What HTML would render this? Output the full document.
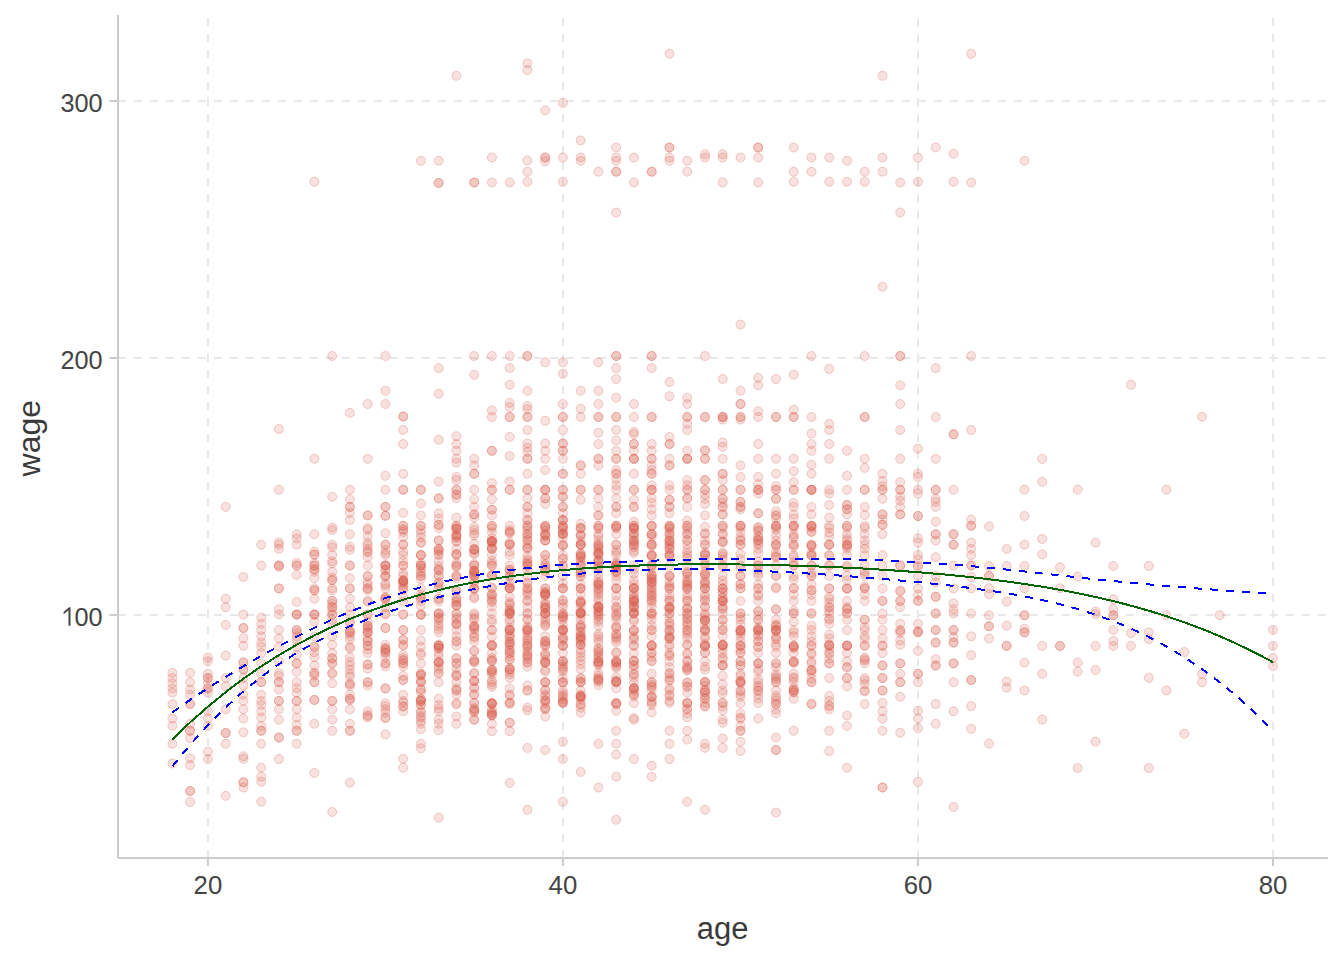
<!DOCTYPE html>
<html><head><meta charset="utf-8"><style>
html,body{margin:0;padding:0;background:#fff;}
svg{display:block;}
text{font-family:"Liberation Sans",sans-serif;}
</style></head><body>
<svg width="1344" height="960" viewBox="0 0 1344 960">
<rect width="1344" height="960" fill="#fff"/>
<g stroke="#E8E8E8" stroke-width="2" stroke-dasharray="8 8" fill="none">
<line x1="207.9" y1="858.0" x2="207.9" y2="15.0"/>
<line x1="562.9" y1="858.0" x2="562.9" y2="15.0"/>
<line x1="918.0" y1="858.0" x2="918.0" y2="15.0"/>
<line x1="1273.0" y1="858.0" x2="1273.0" y2="15.0"/>
<line x1="118" y1="614.9" x2="1328.0" y2="614.9"/>
<line x1="118" y1="357.9" x2="1328.0" y2="357.9"/>
<line x1="118" y1="101.0" x2="1328.0" y2="101.0"/>
</g>
<g fill="rgb(218,88,72)" fill-opacity="0.18" stroke="rgb(218,88,72)" stroke-opacity="0.28" stroke-width="1.0">
<circle cx="456.4" cy="75.8" r="4.5"/>
<circle cx="527.4" cy="63.3" r="4.5"/>
<circle cx="527.4" cy="70.0" r="4.5"/>
<circle cx="527.4" cy="160.4" r="4.5"/>
<circle cx="527.4" cy="171.7" r="4.5"/>
<circle cx="527.4" cy="181.7" r="4.5"/>
<circle cx="669.5" cy="53.8" r="4.5"/>
<circle cx="669.5" cy="147.5" r="4.5"/>
<circle cx="669.5" cy="147.5" r="4.5"/>
<circle cx="669.5" cy="157.5" r="4.5"/>
<circle cx="669.5" cy="160.8" r="4.5"/>
<circle cx="545.2" cy="110.4" r="4.5"/>
<circle cx="545.2" cy="157.5" r="4.5"/>
<circle cx="545.2" cy="157.5" r="4.5"/>
<circle cx="545.2" cy="161.2" r="4.5"/>
<circle cx="562.9" cy="102.9" r="4.5"/>
<circle cx="562.9" cy="157.5" r="4.5"/>
<circle cx="562.9" cy="181.7" r="4.5"/>
<circle cx="314.4" cy="181.7" r="4.5"/>
<circle cx="420.9" cy="160.8" r="4.5"/>
<circle cx="438.7" cy="160.8" r="4.5"/>
<circle cx="438.7" cy="182.9" r="4.5"/>
<circle cx="438.7" cy="182.9" r="4.5"/>
<circle cx="474.2" cy="182.5" r="4.5"/>
<circle cx="474.2" cy="182.5" r="4.5"/>
<circle cx="491.9" cy="157.5" r="4.5"/>
<circle cx="491.9" cy="182.5" r="4.5"/>
<circle cx="509.7" cy="182.5" r="4.5"/>
<circle cx="580.7" cy="140.4" r="4.5"/>
<circle cx="580.7" cy="157.5" r="4.5"/>
<circle cx="580.7" cy="160.8" r="4.5"/>
<circle cx="598.4" cy="171.7" r="4.5"/>
<circle cx="616.2" cy="147.5" r="4.5"/>
<circle cx="616.2" cy="157.5" r="4.5"/>
<circle cx="616.2" cy="160.8" r="4.5"/>
<circle cx="616.2" cy="171.7" r="4.5"/>
<circle cx="616.2" cy="171.7" r="4.5"/>
<circle cx="616.2" cy="212.5" r="4.5"/>
<circle cx="633.9" cy="157.5" r="4.5"/>
<circle cx="633.9" cy="182.5" r="4.5"/>
<circle cx="651.7" cy="171.7" r="4.5"/>
<circle cx="651.7" cy="171.7" r="4.5"/>
<circle cx="687.2" cy="160.8" r="4.5"/>
<circle cx="687.2" cy="171.7" r="4.5"/>
<circle cx="705.0" cy="154.2" r="4.5"/>
<circle cx="705.0" cy="157.5" r="4.5"/>
<circle cx="882.5" cy="75.8" r="4.5"/>
<circle cx="971.2" cy="53.8" r="4.5"/>
<circle cx="722.7" cy="154.2" r="4.5"/>
<circle cx="722.7" cy="157.5" r="4.5"/>
<circle cx="722.7" cy="182.5" r="4.5"/>
<circle cx="740.5" cy="157.5" r="4.5"/>
<circle cx="740.5" cy="324.6" r="4.5"/>
<circle cx="758.2" cy="147.5" r="4.5"/>
<circle cx="758.2" cy="147.5" r="4.5"/>
<circle cx="758.2" cy="157.5" r="4.5"/>
<circle cx="758.2" cy="182.5" r="4.5"/>
<circle cx="793.7" cy="147.5" r="4.5"/>
<circle cx="793.7" cy="171.7" r="4.5"/>
<circle cx="793.7" cy="181.7" r="4.5"/>
<circle cx="811.5" cy="157.5" r="4.5"/>
<circle cx="811.5" cy="171.7" r="4.5"/>
<circle cx="829.2" cy="157.5" r="4.5"/>
<circle cx="829.2" cy="181.7" r="4.5"/>
<circle cx="847.0" cy="160.8" r="4.5"/>
<circle cx="847.0" cy="181.7" r="4.5"/>
<circle cx="864.7" cy="171.7" r="4.5"/>
<circle cx="864.7" cy="181.7" r="4.5"/>
<circle cx="882.5" cy="157.5" r="4.5"/>
<circle cx="882.5" cy="171.7" r="4.5"/>
<circle cx="882.5" cy="286.7" r="4.5"/>
<circle cx="900.2" cy="182.5" r="4.5"/>
<circle cx="900.2" cy="212.5" r="4.5"/>
<circle cx="918.0" cy="157.5" r="4.5"/>
<circle cx="918.0" cy="181.7" r="4.5"/>
<circle cx="935.7" cy="147.5" r="4.5"/>
<circle cx="953.5" cy="153.8" r="4.5"/>
<circle cx="953.5" cy="181.7" r="4.5"/>
<circle cx="971.2" cy="182.5" r="4.5"/>
<circle cx="1024.5" cy="160.8" r="4.5"/>
<circle cx="278.9" cy="429.0" r="4.5"/>
<circle cx="278.9" cy="489.8" r="4.5"/>
<circle cx="225.7" cy="506.9" r="4.5"/>
<circle cx="314.4" cy="458.8" r="4.5"/>
<circle cx="332.2" cy="356.0" r="4.5"/>
<circle cx="332.2" cy="496.7" r="4.5"/>
<circle cx="332.2" cy="527.5" r="4.5"/>
<circle cx="349.9" cy="412.9" r="4.5"/>
<circle cx="349.9" cy="489.8" r="4.5"/>
<circle cx="349.9" cy="499.2" r="4.5"/>
<circle cx="349.9" cy="506.9" r="4.5"/>
<circle cx="349.9" cy="506.9" r="4.5"/>
<circle cx="349.9" cy="512.9" r="4.5"/>
<circle cx="349.9" cy="520.0" r="4.5"/>
<circle cx="367.7" cy="404.0" r="4.5"/>
<circle cx="367.7" cy="458.8" r="4.5"/>
<circle cx="367.7" cy="515.4" r="4.5"/>
<circle cx="367.7" cy="515.4" r="4.5"/>
<circle cx="367.7" cy="528.0" r="4.5"/>
<circle cx="385.4" cy="356.0" r="4.5"/>
<circle cx="385.4" cy="390.8" r="4.5"/>
<circle cx="385.4" cy="404.0" r="4.5"/>
<circle cx="385.4" cy="475.8" r="4.5"/>
<circle cx="385.4" cy="489.8" r="4.5"/>
<circle cx="385.4" cy="506.9" r="4.5"/>
<circle cx="385.4" cy="506.9" r="4.5"/>
<circle cx="385.4" cy="515.8" r="4.5"/>
<circle cx="385.4" cy="515.8" r="4.5"/>
<circle cx="403.2" cy="416.5" r="4.5"/>
<circle cx="403.2" cy="416.5" r="4.5"/>
<circle cx="403.2" cy="430.0" r="4.5"/>
<circle cx="403.2" cy="444.0" r="4.5"/>
<circle cx="403.2" cy="473.8" r="4.5"/>
<circle cx="403.2" cy="489.8" r="4.5"/>
<circle cx="403.2" cy="489.8" r="4.5"/>
<circle cx="403.2" cy="512.9" r="4.5"/>
<circle cx="403.2" cy="525.8" r="4.5"/>
<circle cx="403.2" cy="525.8" r="4.5"/>
<circle cx="420.9" cy="489.8" r="4.5"/>
<circle cx="420.9" cy="489.8" r="4.5"/>
<circle cx="420.9" cy="503.5" r="4.5"/>
<circle cx="420.9" cy="515.4" r="4.5"/>
<circle cx="420.9" cy="525.8" r="4.5"/>
<circle cx="420.9" cy="525.8" r="4.5"/>
<circle cx="438.7" cy="368.1" r="4.5"/>
<circle cx="438.7" cy="393.8" r="4.5"/>
<circle cx="438.7" cy="439.8" r="4.5"/>
<circle cx="438.7" cy="481.5" r="4.5"/>
<circle cx="438.7" cy="498.3" r="4.5"/>
<circle cx="438.7" cy="498.3" r="4.5"/>
<circle cx="438.7" cy="513.3" r="4.5"/>
<circle cx="438.7" cy="518.5" r="4.5"/>
<circle cx="438.7" cy="524.8" r="4.5"/>
<circle cx="438.7" cy="524.8" r="4.5"/>
<circle cx="456.4" cy="436.2" r="4.5"/>
<circle cx="456.4" cy="444.0" r="4.5"/>
<circle cx="456.4" cy="450.8" r="4.5"/>
<circle cx="456.4" cy="458.8" r="4.5"/>
<circle cx="456.4" cy="462.7" r="4.5"/>
<circle cx="456.4" cy="476.9" r="4.5"/>
<circle cx="456.4" cy="480.0" r="4.5"/>
<circle cx="456.4" cy="489.8" r="4.5"/>
<circle cx="456.4" cy="489.8" r="4.5"/>
<circle cx="456.4" cy="494.6" r="4.5"/>
<circle cx="456.4" cy="494.6" r="4.5"/>
<circle cx="456.4" cy="498.3" r="4.5"/>
<circle cx="456.4" cy="517.5" r="4.5"/>
<circle cx="456.4" cy="525.8" r="4.5"/>
<circle cx="456.4" cy="525.8" r="4.5"/>
<circle cx="474.2" cy="356.0" r="4.5"/>
<circle cx="474.2" cy="374.8" r="4.5"/>
<circle cx="474.2" cy="458.8" r="4.5"/>
<circle cx="474.2" cy="465.4" r="4.5"/>
<circle cx="474.2" cy="473.8" r="4.5"/>
<circle cx="474.2" cy="473.8" r="4.5"/>
<circle cx="474.2" cy="489.8" r="4.5"/>
<circle cx="474.2" cy="499.2" r="4.5"/>
<circle cx="474.2" cy="506.9" r="4.5"/>
<circle cx="474.2" cy="514.4" r="4.5"/>
<circle cx="474.2" cy="514.4" r="4.5"/>
<circle cx="474.2" cy="517.5" r="4.5"/>
<circle cx="474.2" cy="530.0" r="4.5"/>
<circle cx="491.9" cy="356.0" r="4.5"/>
<circle cx="491.9" cy="410.4" r="4.5"/>
<circle cx="491.9" cy="417.0" r="4.5"/>
<circle cx="491.9" cy="450.8" r="4.5"/>
<circle cx="491.9" cy="450.8" r="4.5"/>
<circle cx="491.9" cy="483.1" r="4.5"/>
<circle cx="491.9" cy="489.8" r="4.5"/>
<circle cx="491.9" cy="489.8" r="4.5"/>
<circle cx="491.9" cy="499.2" r="4.5"/>
<circle cx="491.9" cy="509.6" r="4.5"/>
<circle cx="491.9" cy="509.6" r="4.5"/>
<circle cx="491.9" cy="515.4" r="4.5"/>
<circle cx="491.9" cy="525.8" r="4.5"/>
<circle cx="491.9" cy="525.8" r="4.5"/>
<circle cx="509.7" cy="356.0" r="4.5"/>
<circle cx="509.7" cy="368.1" r="4.5"/>
<circle cx="509.7" cy="384.8" r="4.5"/>
<circle cx="509.7" cy="402.9" r="4.5"/>
<circle cx="509.7" cy="407.1" r="4.5"/>
<circle cx="509.7" cy="417.0" r="4.5"/>
<circle cx="509.7" cy="417.0" r="4.5"/>
<circle cx="509.7" cy="436.9" r="4.5"/>
<circle cx="509.7" cy="456.0" r="4.5"/>
<circle cx="509.7" cy="481.5" r="4.5"/>
<circle cx="509.7" cy="489.8" r="4.5"/>
<circle cx="509.7" cy="489.8" r="4.5"/>
<circle cx="509.7" cy="525.8" r="4.5"/>
<circle cx="527.4" cy="356.0" r="4.5"/>
<circle cx="527.4" cy="356.0" r="4.5"/>
<circle cx="527.4" cy="390.8" r="4.5"/>
<circle cx="527.4" cy="406.0" r="4.5"/>
<circle cx="527.4" cy="409.2" r="4.5"/>
<circle cx="527.4" cy="417.0" r="4.5"/>
<circle cx="527.4" cy="417.0" r="4.5"/>
<circle cx="527.4" cy="430.0" r="4.5"/>
<circle cx="527.4" cy="443.5" r="4.5"/>
<circle cx="527.4" cy="447.7" r="4.5"/>
<circle cx="527.4" cy="451.9" r="4.5"/>
<circle cx="527.4" cy="458.8" r="4.5"/>
<circle cx="527.4" cy="458.8" r="4.5"/>
<circle cx="527.4" cy="473.8" r="4.5"/>
<circle cx="527.4" cy="489.8" r="4.5"/>
<circle cx="527.4" cy="489.8" r="4.5"/>
<circle cx="527.4" cy="498.3" r="4.5"/>
<circle cx="527.4" cy="506.9" r="4.5"/>
<circle cx="527.4" cy="506.9" r="4.5"/>
<circle cx="527.4" cy="513.3" r="4.5"/>
<circle cx="527.4" cy="520.0" r="4.5"/>
<circle cx="527.4" cy="520.0" r="4.5"/>
<circle cx="527.4" cy="525.8" r="4.5"/>
<circle cx="527.4" cy="525.8" r="4.5"/>
<circle cx="545.2" cy="362.3" r="4.5"/>
<circle cx="545.2" cy="420.8" r="4.5"/>
<circle cx="545.2" cy="443.5" r="4.5"/>
<circle cx="545.2" cy="450.8" r="4.5"/>
<circle cx="545.2" cy="458.8" r="4.5"/>
<circle cx="545.2" cy="470.0" r="4.5"/>
<circle cx="545.2" cy="489.8" r="4.5"/>
<circle cx="545.2" cy="489.8" r="4.5"/>
<circle cx="545.2" cy="489.8" r="4.5"/>
<circle cx="545.2" cy="498.3" r="4.5"/>
<circle cx="545.2" cy="498.3" r="4.5"/>
<circle cx="545.2" cy="504.0" r="4.5"/>
<circle cx="545.2" cy="525.8" r="4.5"/>
<circle cx="545.2" cy="525.8" r="4.5"/>
<circle cx="562.9" cy="362.3" r="4.5"/>
<circle cx="562.9" cy="373.8" r="4.5"/>
<circle cx="562.9" cy="404.0" r="4.5"/>
<circle cx="562.9" cy="417.0" r="4.5"/>
<circle cx="562.9" cy="417.0" r="4.5"/>
<circle cx="562.9" cy="430.0" r="4.5"/>
<circle cx="562.9" cy="443.5" r="4.5"/>
<circle cx="562.9" cy="443.5" r="4.5"/>
<circle cx="562.9" cy="450.8" r="4.5"/>
<circle cx="562.9" cy="450.8" r="4.5"/>
<circle cx="562.9" cy="458.8" r="4.5"/>
<circle cx="562.9" cy="473.8" r="4.5"/>
<circle cx="562.9" cy="473.8" r="4.5"/>
<circle cx="562.9" cy="489.8" r="4.5"/>
<circle cx="562.9" cy="489.8" r="4.5"/>
<circle cx="562.9" cy="496.7" r="4.5"/>
<circle cx="562.9" cy="496.7" r="4.5"/>
<circle cx="562.9" cy="506.9" r="4.5"/>
<circle cx="562.9" cy="506.9" r="4.5"/>
<circle cx="562.9" cy="513.3" r="4.5"/>
<circle cx="562.9" cy="520.0" r="4.5"/>
<circle cx="562.9" cy="520.0" r="4.5"/>
<circle cx="562.9" cy="520.0" r="4.5"/>
<circle cx="562.9" cy="525.8" r="4.5"/>
<circle cx="562.9" cy="525.8" r="4.5"/>
<circle cx="580.7" cy="390.8" r="4.5"/>
<circle cx="580.7" cy="408.8" r="4.5"/>
<circle cx="580.7" cy="417.0" r="4.5"/>
<circle cx="580.7" cy="465.4" r="4.5"/>
<circle cx="580.7" cy="465.4" r="4.5"/>
<circle cx="580.7" cy="473.8" r="4.5"/>
<circle cx="580.7" cy="489.8" r="4.5"/>
<circle cx="580.7" cy="489.8" r="4.5"/>
<circle cx="580.7" cy="499.8" r="4.5"/>
<circle cx="580.7" cy="523.8" r="4.5"/>
<circle cx="580.7" cy="528.0" r="4.5"/>
<circle cx="598.4" cy="362.3" r="4.5"/>
<circle cx="598.4" cy="390.8" r="4.5"/>
<circle cx="598.4" cy="404.0" r="4.5"/>
<circle cx="598.4" cy="417.0" r="4.5"/>
<circle cx="598.4" cy="417.0" r="4.5"/>
<circle cx="598.4" cy="432.7" r="4.5"/>
<circle cx="598.4" cy="444.0" r="4.5"/>
<circle cx="598.4" cy="458.8" r="4.5"/>
<circle cx="598.4" cy="458.8" r="4.5"/>
<circle cx="598.4" cy="465.4" r="4.5"/>
<circle cx="598.4" cy="489.8" r="4.5"/>
<circle cx="598.4" cy="489.8" r="4.5"/>
<circle cx="598.4" cy="498.3" r="4.5"/>
<circle cx="598.4" cy="506.9" r="4.5"/>
<circle cx="598.4" cy="515.4" r="4.5"/>
<circle cx="598.4" cy="515.4" r="4.5"/>
<circle cx="598.4" cy="525.8" r="4.5"/>
<circle cx="598.4" cy="525.8" r="4.5"/>
<circle cx="616.2" cy="356.0" r="4.5"/>
<circle cx="616.2" cy="356.0" r="4.5"/>
<circle cx="616.2" cy="368.1" r="4.5"/>
<circle cx="616.2" cy="379.0" r="4.5"/>
<circle cx="616.2" cy="397.7" r="4.5"/>
<circle cx="616.2" cy="417.0" r="4.5"/>
<circle cx="616.2" cy="417.0" r="4.5"/>
<circle cx="616.2" cy="430.0" r="4.5"/>
<circle cx="616.2" cy="440.4" r="4.5"/>
<circle cx="616.2" cy="450.8" r="4.5"/>
<circle cx="616.2" cy="458.8" r="4.5"/>
<circle cx="616.2" cy="458.8" r="4.5"/>
<circle cx="616.2" cy="470.0" r="4.5"/>
<circle cx="616.2" cy="473.8" r="4.5"/>
<circle cx="616.2" cy="473.8" r="4.5"/>
<circle cx="616.2" cy="479.0" r="4.5"/>
<circle cx="616.2" cy="485.2" r="4.5"/>
<circle cx="616.2" cy="489.8" r="4.5"/>
<circle cx="616.2" cy="498.3" r="4.5"/>
<circle cx="616.2" cy="506.9" r="4.5"/>
<circle cx="616.2" cy="506.9" r="4.5"/>
<circle cx="616.2" cy="513.3" r="4.5"/>
<circle cx="616.2" cy="525.8" r="4.5"/>
<circle cx="616.2" cy="525.8" r="4.5"/>
<circle cx="616.2" cy="525.8" r="4.5"/>
<circle cx="633.9" cy="404.0" r="4.5"/>
<circle cx="633.9" cy="417.0" r="4.5"/>
<circle cx="633.9" cy="432.0" r="4.5"/>
<circle cx="633.9" cy="434.2" r="4.5"/>
<circle cx="633.9" cy="444.0" r="4.5"/>
<circle cx="633.9" cy="444.0" r="4.5"/>
<circle cx="633.9" cy="450.8" r="4.5"/>
<circle cx="633.9" cy="458.8" r="4.5"/>
<circle cx="633.9" cy="458.8" r="4.5"/>
<circle cx="633.9" cy="458.8" r="4.5"/>
<circle cx="633.9" cy="473.8" r="4.5"/>
<circle cx="633.9" cy="489.8" r="4.5"/>
<circle cx="633.9" cy="489.8" r="4.5"/>
<circle cx="633.9" cy="499.8" r="4.5"/>
<circle cx="633.9" cy="506.9" r="4.5"/>
<circle cx="633.9" cy="506.9" r="4.5"/>
<circle cx="633.9" cy="521.7" r="4.5"/>
<circle cx="633.9" cy="525.8" r="4.5"/>
<circle cx="633.9" cy="525.8" r="4.5"/>
<circle cx="651.7" cy="356.0" r="4.5"/>
<circle cx="651.7" cy="356.0" r="4.5"/>
<circle cx="651.7" cy="368.1" r="4.5"/>
<circle cx="651.7" cy="417.0" r="4.5"/>
<circle cx="651.7" cy="417.0" r="4.5"/>
<circle cx="651.7" cy="444.0" r="4.5"/>
<circle cx="651.7" cy="450.8" r="4.5"/>
<circle cx="651.7" cy="458.8" r="4.5"/>
<circle cx="651.7" cy="458.8" r="4.5"/>
<circle cx="651.7" cy="465.4" r="4.5"/>
<circle cx="651.7" cy="470.0" r="4.5"/>
<circle cx="651.7" cy="473.8" r="4.5"/>
<circle cx="651.7" cy="473.8" r="4.5"/>
<circle cx="651.7" cy="485.2" r="4.5"/>
<circle cx="651.7" cy="489.8" r="4.5"/>
<circle cx="651.7" cy="489.8" r="4.5"/>
<circle cx="651.7" cy="489.8" r="4.5"/>
<circle cx="651.7" cy="498.3" r="4.5"/>
<circle cx="651.7" cy="502.9" r="4.5"/>
<circle cx="651.7" cy="509.2" r="4.5"/>
<circle cx="651.7" cy="515.4" r="4.5"/>
<circle cx="651.7" cy="525.8" r="4.5"/>
<circle cx="651.7" cy="525.8" r="4.5"/>
<circle cx="669.5" cy="382.0" r="4.5"/>
<circle cx="669.5" cy="396.2" r="4.5"/>
<circle cx="669.5" cy="436.9" r="4.5"/>
<circle cx="669.5" cy="444.0" r="4.5"/>
<circle cx="669.5" cy="444.0" r="4.5"/>
<circle cx="669.5" cy="458.8" r="4.5"/>
<circle cx="669.5" cy="465.4" r="4.5"/>
<circle cx="669.5" cy="465.4" r="4.5"/>
<circle cx="669.5" cy="485.2" r="4.5"/>
<circle cx="669.5" cy="489.8" r="4.5"/>
<circle cx="669.5" cy="499.8" r="4.5"/>
<circle cx="669.5" cy="499.8" r="4.5"/>
<circle cx="669.5" cy="506.9" r="4.5"/>
<circle cx="669.5" cy="506.9" r="4.5"/>
<circle cx="669.5" cy="513.3" r="4.5"/>
<circle cx="669.5" cy="525.8" r="4.5"/>
<circle cx="669.5" cy="525.8" r="4.5"/>
<circle cx="687.2" cy="397.7" r="4.5"/>
<circle cx="687.2" cy="404.0" r="4.5"/>
<circle cx="687.2" cy="417.0" r="4.5"/>
<circle cx="687.2" cy="417.0" r="4.5"/>
<circle cx="687.2" cy="423.8" r="4.5"/>
<circle cx="687.2" cy="430.0" r="4.5"/>
<circle cx="687.2" cy="450.8" r="4.5"/>
<circle cx="687.2" cy="458.8" r="4.5"/>
<circle cx="687.2" cy="458.8" r="4.5"/>
<circle cx="687.2" cy="458.8" r="4.5"/>
<circle cx="687.2" cy="480.0" r="4.5"/>
<circle cx="687.2" cy="485.2" r="4.5"/>
<circle cx="687.2" cy="489.8" r="4.5"/>
<circle cx="687.2" cy="489.8" r="4.5"/>
<circle cx="687.2" cy="498.3" r="4.5"/>
<circle cx="687.2" cy="498.3" r="4.5"/>
<circle cx="687.2" cy="506.9" r="4.5"/>
<circle cx="687.2" cy="520.6" r="4.5"/>
<circle cx="687.2" cy="525.8" r="4.5"/>
<circle cx="687.2" cy="525.8" r="4.5"/>
<circle cx="705.0" cy="356.0" r="4.5"/>
<circle cx="705.0" cy="417.0" r="4.5"/>
<circle cx="705.0" cy="417.0" r="4.5"/>
<circle cx="705.0" cy="450.4" r="4.5"/>
<circle cx="705.0" cy="450.4" r="4.5"/>
<circle cx="705.0" cy="458.8" r="4.5"/>
<circle cx="705.0" cy="458.8" r="4.5"/>
<circle cx="705.0" cy="480.0" r="4.5"/>
<circle cx="705.0" cy="480.0" r="4.5"/>
<circle cx="705.0" cy="489.8" r="4.5"/>
<circle cx="705.0" cy="489.8" r="4.5"/>
<circle cx="705.0" cy="494.6" r="4.5"/>
<circle cx="705.0" cy="498.8" r="4.5"/>
<circle cx="705.0" cy="504.0" r="4.5"/>
<circle cx="705.0" cy="515.4" r="4.5"/>
<circle cx="705.0" cy="526.9" r="4.5"/>
<circle cx="722.7" cy="379.0" r="4.5"/>
<circle cx="722.7" cy="417.0" r="4.5"/>
<circle cx="722.7" cy="417.0" r="4.5"/>
<circle cx="722.7" cy="417.0" r="4.5"/>
<circle cx="722.7" cy="419.6" r="4.5"/>
<circle cx="722.7" cy="442.5" r="4.5"/>
<circle cx="722.7" cy="446.7" r="4.5"/>
<circle cx="722.7" cy="458.8" r="4.5"/>
<circle cx="722.7" cy="473.8" r="4.5"/>
<circle cx="722.7" cy="473.8" r="4.5"/>
<circle cx="722.7" cy="480.0" r="4.5"/>
<circle cx="722.7" cy="489.8" r="4.5"/>
<circle cx="722.7" cy="489.8" r="4.5"/>
<circle cx="722.7" cy="498.8" r="4.5"/>
<circle cx="722.7" cy="498.8" r="4.5"/>
<circle cx="722.7" cy="502.9" r="4.5"/>
<circle cx="722.7" cy="506.9" r="4.5"/>
<circle cx="722.7" cy="506.9" r="4.5"/>
<circle cx="722.7" cy="514.4" r="4.5"/>
<circle cx="722.7" cy="514.4" r="4.5"/>
<circle cx="722.7" cy="525.8" r="4.5"/>
<circle cx="722.7" cy="525.8" r="4.5"/>
<circle cx="740.5" cy="390.8" r="4.5"/>
<circle cx="740.5" cy="404.0" r="4.5"/>
<circle cx="740.5" cy="404.0" r="4.5"/>
<circle cx="740.5" cy="417.0" r="4.5"/>
<circle cx="740.5" cy="417.0" r="4.5"/>
<circle cx="740.5" cy="419.6" r="4.5"/>
<circle cx="740.5" cy="465.4" r="4.5"/>
<circle cx="740.5" cy="476.9" r="4.5"/>
<circle cx="740.5" cy="489.8" r="4.5"/>
<circle cx="740.5" cy="489.8" r="4.5"/>
<circle cx="740.5" cy="501.9" r="4.5"/>
<circle cx="740.5" cy="501.9" r="4.5"/>
<circle cx="740.5" cy="506.9" r="4.5"/>
<circle cx="740.5" cy="506.9" r="4.5"/>
<circle cx="740.5" cy="509.2" r="4.5"/>
<circle cx="740.5" cy="525.8" r="4.5"/>
<circle cx="740.5" cy="525.8" r="4.5"/>
<circle cx="740.5" cy="525.8" r="4.5"/>
<circle cx="758.2" cy="377.9" r="4.5"/>
<circle cx="758.2" cy="385.2" r="4.5"/>
<circle cx="758.2" cy="411.2" r="4.5"/>
<circle cx="758.2" cy="417.0" r="4.5"/>
<circle cx="758.2" cy="444.0" r="4.5"/>
<circle cx="758.2" cy="458.8" r="4.5"/>
<circle cx="758.2" cy="476.9" r="4.5"/>
<circle cx="758.2" cy="484.2" r="4.5"/>
<circle cx="758.2" cy="489.8" r="4.5"/>
<circle cx="758.2" cy="489.8" r="4.5"/>
<circle cx="758.2" cy="489.8" r="4.5"/>
<circle cx="758.2" cy="493.5" r="4.5"/>
<circle cx="758.2" cy="513.3" r="4.5"/>
<circle cx="758.2" cy="513.3" r="4.5"/>
<circle cx="758.2" cy="526.9" r="4.5"/>
<circle cx="776.0" cy="379.0" r="4.5"/>
<circle cx="776.0" cy="417.0" r="4.5"/>
<circle cx="776.0" cy="417.0" r="4.5"/>
<circle cx="776.0" cy="458.8" r="4.5"/>
<circle cx="776.0" cy="473.8" r="4.5"/>
<circle cx="776.0" cy="486.2" r="4.5"/>
<circle cx="776.0" cy="489.8" r="4.5"/>
<circle cx="776.0" cy="489.8" r="4.5"/>
<circle cx="776.0" cy="498.8" r="4.5"/>
<circle cx="776.0" cy="498.8" r="4.5"/>
<circle cx="776.0" cy="511.2" r="4.5"/>
<circle cx="776.0" cy="515.4" r="4.5"/>
<circle cx="776.0" cy="515.4" r="4.5"/>
<circle cx="776.0" cy="518.5" r="4.5"/>
<circle cx="776.0" cy="525.8" r="4.5"/>
<circle cx="776.0" cy="525.8" r="4.5"/>
<circle cx="776.0" cy="525.8" r="4.5"/>
<circle cx="793.7" cy="374.8" r="4.5"/>
<circle cx="793.7" cy="409.8" r="4.5"/>
<circle cx="793.7" cy="417.0" r="4.5"/>
<circle cx="793.7" cy="417.0" r="4.5"/>
<circle cx="793.7" cy="458.8" r="4.5"/>
<circle cx="793.7" cy="471.2" r="4.5"/>
<circle cx="793.7" cy="482.1" r="4.5"/>
<circle cx="793.7" cy="489.8" r="4.5"/>
<circle cx="793.7" cy="489.8" r="4.5"/>
<circle cx="793.7" cy="502.9" r="4.5"/>
<circle cx="793.7" cy="506.9" r="4.5"/>
<circle cx="793.7" cy="514.4" r="4.5"/>
<circle cx="793.7" cy="518.5" r="4.5"/>
<circle cx="793.7" cy="525.8" r="4.5"/>
<circle cx="793.7" cy="525.8" r="4.5"/>
<circle cx="793.7" cy="525.8" r="4.5"/>
<circle cx="811.5" cy="356.0" r="4.5"/>
<circle cx="811.5" cy="417.0" r="4.5"/>
<circle cx="811.5" cy="433.5" r="4.5"/>
<circle cx="811.5" cy="444.0" r="4.5"/>
<circle cx="811.5" cy="450.8" r="4.5"/>
<circle cx="811.5" cy="464.8" r="4.5"/>
<circle cx="811.5" cy="473.8" r="4.5"/>
<circle cx="811.5" cy="489.8" r="4.5"/>
<circle cx="811.5" cy="489.8" r="4.5"/>
<circle cx="811.5" cy="489.8" r="4.5"/>
<circle cx="811.5" cy="489.8" r="4.5"/>
<circle cx="811.5" cy="506.9" r="4.5"/>
<circle cx="811.5" cy="514.4" r="4.5"/>
<circle cx="811.5" cy="525.8" r="4.5"/>
<circle cx="811.5" cy="525.8" r="4.5"/>
<circle cx="811.5" cy="525.8" r="4.5"/>
<circle cx="829.2" cy="369.0" r="4.5"/>
<circle cx="829.2" cy="423.8" r="4.5"/>
<circle cx="829.2" cy="430.0" r="4.5"/>
<circle cx="829.2" cy="444.0" r="4.5"/>
<circle cx="829.2" cy="458.8" r="4.5"/>
<circle cx="829.2" cy="489.8" r="4.5"/>
<circle cx="829.2" cy="493.5" r="4.5"/>
<circle cx="829.2" cy="505.0" r="4.5"/>
<circle cx="829.2" cy="517.5" r="4.5"/>
<circle cx="829.2" cy="525.8" r="4.5"/>
<circle cx="847.0" cy="450.8" r="4.5"/>
<circle cx="847.0" cy="475.8" r="4.5"/>
<circle cx="847.0" cy="489.8" r="4.5"/>
<circle cx="847.0" cy="505.0" r="4.5"/>
<circle cx="847.0" cy="505.0" r="4.5"/>
<circle cx="847.0" cy="509.2" r="4.5"/>
<circle cx="847.0" cy="509.2" r="4.5"/>
<circle cx="847.0" cy="514.4" r="4.5"/>
<circle cx="847.0" cy="525.8" r="4.5"/>
<circle cx="847.0" cy="525.8" r="4.5"/>
<circle cx="864.7" cy="356.0" r="4.5"/>
<circle cx="864.7" cy="417.0" r="4.5"/>
<circle cx="864.7" cy="417.0" r="4.5"/>
<circle cx="864.7" cy="458.8" r="4.5"/>
<circle cx="864.7" cy="467.9" r="4.5"/>
<circle cx="864.7" cy="489.8" r="4.5"/>
<circle cx="864.7" cy="489.8" r="4.5"/>
<circle cx="864.7" cy="506.9" r="4.5"/>
<circle cx="864.7" cy="515.0" r="4.5"/>
<circle cx="864.7" cy="525.8" r="4.5"/>
<circle cx="882.5" cy="473.8" r="4.5"/>
<circle cx="882.5" cy="481.0" r="4.5"/>
<circle cx="882.5" cy="486.2" r="4.5"/>
<circle cx="882.5" cy="489.8" r="4.5"/>
<circle cx="882.5" cy="489.8" r="4.5"/>
<circle cx="882.5" cy="498.8" r="4.5"/>
<circle cx="882.5" cy="514.4" r="4.5"/>
<circle cx="882.5" cy="514.4" r="4.5"/>
<circle cx="882.5" cy="519.6" r="4.5"/>
<circle cx="882.5" cy="524.8" r="4.5"/>
<circle cx="882.5" cy="524.8" r="4.5"/>
<circle cx="900.2" cy="356.0" r="4.5"/>
<circle cx="900.2" cy="356.0" r="4.5"/>
<circle cx="900.2" cy="385.2" r="4.5"/>
<circle cx="900.2" cy="404.0" r="4.5"/>
<circle cx="900.2" cy="430.0" r="4.5"/>
<circle cx="900.2" cy="458.8" r="4.5"/>
<circle cx="900.2" cy="482.1" r="4.5"/>
<circle cx="900.2" cy="489.8" r="4.5"/>
<circle cx="900.2" cy="489.8" r="4.5"/>
<circle cx="900.2" cy="496.7" r="4.5"/>
<circle cx="900.2" cy="500.8" r="4.5"/>
<circle cx="900.2" cy="506.9" r="4.5"/>
<circle cx="900.2" cy="514.4" r="4.5"/>
<circle cx="900.2" cy="514.4" r="4.5"/>
<circle cx="918.0" cy="448.8" r="4.5"/>
<circle cx="918.0" cy="473.8" r="4.5"/>
<circle cx="918.0" cy="476.9" r="4.5"/>
<circle cx="918.0" cy="489.8" r="4.5"/>
<circle cx="918.0" cy="493.5" r="4.5"/>
<circle cx="918.0" cy="516.0" r="4.5"/>
<circle cx="918.0" cy="516.0" r="4.5"/>
<circle cx="935.7" cy="368.1" r="4.5"/>
<circle cx="935.7" cy="417.0" r="4.5"/>
<circle cx="935.7" cy="458.8" r="4.5"/>
<circle cx="935.7" cy="489.8" r="4.5"/>
<circle cx="935.7" cy="489.8" r="4.5"/>
<circle cx="935.7" cy="498.8" r="4.5"/>
<circle cx="935.7" cy="501.9" r="4.5"/>
<circle cx="935.7" cy="506.9" r="4.5"/>
<circle cx="935.7" cy="521.7" r="4.5"/>
<circle cx="953.5" cy="434.2" r="4.5"/>
<circle cx="953.5" cy="434.2" r="4.5"/>
<circle cx="953.5" cy="489.8" r="4.5"/>
<circle cx="971.2" cy="356.0" r="4.5"/>
<circle cx="971.2" cy="430.0" r="4.5"/>
<circle cx="971.2" cy="519.6" r="4.5"/>
<circle cx="971.2" cy="525.8" r="4.5"/>
<circle cx="971.2" cy="525.8" r="4.5"/>
<circle cx="989.0" cy="526.4" r="4.5"/>
<circle cx="1024.5" cy="489.6" r="4.5"/>
<circle cx="1024.5" cy="515.9" r="4.5"/>
<circle cx="1042.2" cy="458.9" r="4.5"/>
<circle cx="1042.2" cy="481.7" r="4.5"/>
<circle cx="1077.7" cy="489.6" r="4.5"/>
<circle cx="1131.0" cy="384.8" r="4.5"/>
<circle cx="1166.5" cy="489.6" r="4.5"/>
<circle cx="1202.0" cy="416.7" r="4.5"/>
<circle cx="172.4" cy="672.8" r="4.5"/>
<circle cx="172.4" cy="678.0" r="4.5"/>
<circle cx="172.4" cy="683.2" r="4.5"/>
<circle cx="172.4" cy="688.4" r="4.5"/>
<circle cx="172.4" cy="692.6" r="4.5"/>
<circle cx="172.4" cy="704.0" r="4.5"/>
<circle cx="172.4" cy="718.6" r="4.5"/>
<circle cx="172.4" cy="725.9" r="4.5"/>
<circle cx="190.1" cy="672.8" r="4.5"/>
<circle cx="190.1" cy="682.2" r="4.5"/>
<circle cx="190.1" cy="689.5" r="4.5"/>
<circle cx="190.1" cy="694.7" r="4.5"/>
<circle cx="190.1" cy="704.0" r="4.5"/>
<circle cx="190.1" cy="704.0" r="4.5"/>
<circle cx="190.1" cy="723.8" r="4.5"/>
<circle cx="207.9" cy="657.6" r="4.5"/>
<circle cx="207.9" cy="661.3" r="4.5"/>
<circle cx="207.9" cy="673.8" r="4.5"/>
<circle cx="207.9" cy="678.0" r="4.5"/>
<circle cx="207.9" cy="678.0" r="4.5"/>
<circle cx="207.9" cy="683.2" r="4.5"/>
<circle cx="207.9" cy="688.4" r="4.5"/>
<circle cx="207.9" cy="688.4" r="4.5"/>
<circle cx="207.9" cy="692.6" r="4.5"/>
<circle cx="207.9" cy="711.3" r="4.5"/>
<circle cx="207.9" cy="718.6" r="4.5"/>
<circle cx="207.9" cy="725.9" r="4.5"/>
<circle cx="225.7" cy="598.8" r="4.5"/>
<circle cx="225.7" cy="607.2" r="4.5"/>
<circle cx="225.7" cy="624.9" r="4.5"/>
<circle cx="225.7" cy="655.5" r="4.5"/>
<circle cx="225.7" cy="678.0" r="4.5"/>
<circle cx="225.7" cy="686.3" r="4.5"/>
<circle cx="225.7" cy="709.2" r="4.5"/>
<circle cx="243.4" cy="577.0" r="4.5"/>
<circle cx="243.4" cy="614.5" r="4.5"/>
<circle cx="243.4" cy="628.0" r="4.5"/>
<circle cx="243.4" cy="628.0" r="4.5"/>
<circle cx="243.4" cy="638.4" r="4.5"/>
<circle cx="243.4" cy="645.7" r="4.5"/>
<circle cx="243.4" cy="662.4" r="4.5"/>
<circle cx="243.4" cy="662.4" r="4.5"/>
<circle cx="243.4" cy="669.7" r="4.5"/>
<circle cx="243.4" cy="678.0" r="4.5"/>
<circle cx="243.4" cy="685.3" r="4.5"/>
<circle cx="243.4" cy="694.7" r="4.5"/>
<circle cx="243.4" cy="700.9" r="4.5"/>
<circle cx="243.4" cy="709.2" r="4.5"/>
<circle cx="243.4" cy="718.6" r="4.5"/>
<circle cx="261.2" cy="544.7" r="4.5"/>
<circle cx="261.2" cy="565.5" r="4.5"/>
<circle cx="261.2" cy="617.6" r="4.5"/>
<circle cx="261.2" cy="623.8" r="4.5"/>
<circle cx="261.2" cy="630.0" r="4.5"/>
<circle cx="261.2" cy="636.3" r="4.5"/>
<circle cx="261.2" cy="642.6" r="4.5"/>
<circle cx="261.2" cy="646.8" r="4.5"/>
<circle cx="261.2" cy="653.0" r="4.5"/>
<circle cx="261.2" cy="663.4" r="4.5"/>
<circle cx="261.2" cy="673.8" r="4.5"/>
<circle cx="261.2" cy="682.2" r="4.5"/>
<circle cx="261.2" cy="682.2" r="4.5"/>
<circle cx="261.2" cy="694.7" r="4.5"/>
<circle cx="261.2" cy="700.9" r="4.5"/>
<circle cx="261.2" cy="705.0" r="4.5"/>
<circle cx="261.2" cy="711.3" r="4.5"/>
<circle cx="261.2" cy="717.6" r="4.5"/>
<circle cx="261.2" cy="725.9" r="4.5"/>
<circle cx="278.9" cy="544.7" r="4.5"/>
<circle cx="278.9" cy="565.5" r="4.5"/>
<circle cx="278.9" cy="565.5" r="4.5"/>
<circle cx="278.9" cy="588.4" r="4.5"/>
<circle cx="278.9" cy="588.4" r="4.5"/>
<circle cx="278.9" cy="609.2" r="4.5"/>
<circle cx="278.9" cy="614.5" r="4.5"/>
<circle cx="278.9" cy="630.0" r="4.5"/>
<circle cx="278.9" cy="638.4" r="4.5"/>
<circle cx="278.9" cy="646.8" r="4.5"/>
<circle cx="278.9" cy="661.3" r="4.5"/>
<circle cx="278.9" cy="675.9" r="4.5"/>
<circle cx="278.9" cy="682.2" r="4.5"/>
<circle cx="278.9" cy="682.2" r="4.5"/>
<circle cx="278.9" cy="689.5" r="4.5"/>
<circle cx="278.9" cy="700.9" r="4.5"/>
<circle cx="278.9" cy="700.9" r="4.5"/>
<circle cx="278.9" cy="709.2" r="4.5"/>
<circle cx="278.9" cy="719.7" r="4.5"/>
<circle cx="296.7" cy="534.2" r="4.5"/>
<circle cx="296.7" cy="544.7" r="4.5"/>
<circle cx="296.7" cy="565.5" r="4.5"/>
<circle cx="296.7" cy="565.5" r="4.5"/>
<circle cx="296.7" cy="574.9" r="4.5"/>
<circle cx="296.7" cy="602.0" r="4.5"/>
<circle cx="296.7" cy="614.5" r="4.5"/>
<circle cx="296.7" cy="614.5" r="4.5"/>
<circle cx="296.7" cy="614.5" r="4.5"/>
<circle cx="296.7" cy="630.0" r="4.5"/>
<circle cx="296.7" cy="630.0" r="4.5"/>
<circle cx="296.7" cy="636.3" r="4.5"/>
<circle cx="296.7" cy="646.8" r="4.5"/>
<circle cx="296.7" cy="655.0" r="4.5"/>
<circle cx="296.7" cy="663.4" r="4.5"/>
<circle cx="296.7" cy="663.4" r="4.5"/>
<circle cx="296.7" cy="671.8" r="4.5"/>
<circle cx="296.7" cy="682.2" r="4.5"/>
<circle cx="296.7" cy="692.6" r="4.5"/>
<circle cx="296.7" cy="700.9" r="4.5"/>
<circle cx="296.7" cy="709.2" r="4.5"/>
<circle cx="296.7" cy="717.6" r="4.5"/>
<circle cx="296.7" cy="724.9" r="4.5"/>
<circle cx="314.4" cy="534.2" r="4.5"/>
<circle cx="314.4" cy="555.0" r="4.5"/>
<circle cx="314.4" cy="565.5" r="4.5"/>
<circle cx="314.4" cy="565.5" r="4.5"/>
<circle cx="314.4" cy="571.8" r="4.5"/>
<circle cx="314.4" cy="578.0" r="4.5"/>
<circle cx="314.4" cy="590.5" r="4.5"/>
<circle cx="314.4" cy="598.8" r="4.5"/>
<circle cx="314.4" cy="614.5" r="4.5"/>
<circle cx="314.4" cy="614.5" r="4.5"/>
<circle cx="314.4" cy="614.5" r="4.5"/>
<circle cx="314.4" cy="621.8" r="4.5"/>
<circle cx="314.4" cy="636.3" r="4.5"/>
<circle cx="314.4" cy="646.8" r="4.5"/>
<circle cx="314.4" cy="657.2" r="4.5"/>
<circle cx="314.4" cy="665.5" r="4.5"/>
<circle cx="314.4" cy="673.8" r="4.5"/>
<circle cx="314.4" cy="682.2" r="4.5"/>
<circle cx="314.4" cy="682.2" r="4.5"/>
<circle cx="314.4" cy="699.9" r="4.5"/>
<circle cx="314.4" cy="699.9" r="4.5"/>
<circle cx="314.4" cy="723.8" r="4.5"/>
<circle cx="332.2" cy="530.0" r="4.5"/>
<circle cx="332.2" cy="544.7" r="4.5"/>
<circle cx="332.2" cy="555.0" r="4.5"/>
<circle cx="332.2" cy="561.3" r="4.5"/>
<circle cx="332.2" cy="571.8" r="4.5"/>
<circle cx="332.2" cy="580.0" r="4.5"/>
<circle cx="332.2" cy="588.4" r="4.5"/>
<circle cx="332.2" cy="600.9" r="4.5"/>
<circle cx="332.2" cy="600.9" r="4.5"/>
<circle cx="332.2" cy="607.2" r="4.5"/>
<circle cx="332.2" cy="607.2" r="4.5"/>
<circle cx="332.2" cy="614.5" r="4.5"/>
<circle cx="332.2" cy="614.5" r="4.5"/>
<circle cx="332.2" cy="623.8" r="4.5"/>
<circle cx="332.2" cy="636.3" r="4.5"/>
<circle cx="332.2" cy="644.7" r="4.5"/>
<circle cx="332.2" cy="653.0" r="4.5"/>
<circle cx="332.2" cy="663.4" r="4.5"/>
<circle cx="332.2" cy="663.4" r="4.5"/>
<circle cx="332.2" cy="673.8" r="4.5"/>
<circle cx="332.2" cy="683.2" r="4.5"/>
<circle cx="332.2" cy="700.9" r="4.5"/>
<circle cx="332.2" cy="700.9" r="4.5"/>
<circle cx="332.2" cy="709.2" r="4.5"/>
<circle cx="332.2" cy="719.7" r="4.5"/>
<circle cx="349.9" cy="534.2" r="4.5"/>
<circle cx="349.9" cy="546.8" r="4.5"/>
<circle cx="349.9" cy="565.5" r="4.5"/>
<circle cx="349.9" cy="565.5" r="4.5"/>
<circle cx="349.9" cy="578.0" r="4.5"/>
<circle cx="349.9" cy="588.4" r="4.5"/>
<circle cx="349.9" cy="588.4" r="4.5"/>
<circle cx="349.9" cy="598.8" r="4.5"/>
<circle cx="349.9" cy="607.2" r="4.5"/>
<circle cx="349.9" cy="614.5" r="4.5"/>
<circle cx="349.9" cy="621.8" r="4.5"/>
<circle cx="349.9" cy="632.2" r="4.5"/>
<circle cx="349.9" cy="639.5" r="4.5"/>
<circle cx="349.9" cy="646.8" r="4.5"/>
<circle cx="349.9" cy="657.2" r="4.5"/>
<circle cx="349.9" cy="665.5" r="4.5"/>
<circle cx="349.9" cy="673.8" r="4.5"/>
<circle cx="349.9" cy="684.2" r="4.5"/>
<circle cx="349.9" cy="694.7" r="4.5"/>
<circle cx="349.9" cy="698.8" r="4.5"/>
<circle cx="349.9" cy="698.8" r="4.5"/>
<circle cx="349.9" cy="709.2" r="4.5"/>
<circle cx="349.9" cy="723.8" r="4.5"/>
<circle cx="367.7" cy="530.0" r="4.5"/>
<circle cx="367.7" cy="536.3" r="4.5"/>
<circle cx="367.7" cy="542.6" r="4.5"/>
<circle cx="367.7" cy="548.8" r="4.5"/>
<circle cx="367.7" cy="565.5" r="4.5"/>
<circle cx="367.7" cy="575.9" r="4.5"/>
<circle cx="367.7" cy="588.4" r="4.5"/>
<circle cx="367.7" cy="588.4" r="4.5"/>
<circle cx="367.7" cy="600.9" r="4.5"/>
<circle cx="367.7" cy="614.5" r="4.5"/>
<circle cx="367.7" cy="614.5" r="4.5"/>
<circle cx="367.7" cy="625.9" r="4.5"/>
<circle cx="367.7" cy="625.9" r="4.5"/>
<circle cx="367.7" cy="632.2" r="4.5"/>
<circle cx="367.7" cy="638.4" r="4.5"/>
<circle cx="367.7" cy="645.7" r="4.5"/>
<circle cx="367.7" cy="645.7" r="4.5"/>
<circle cx="367.7" cy="653.0" r="4.5"/>
<circle cx="367.7" cy="664.5" r="4.5"/>
<circle cx="367.7" cy="664.5" r="4.5"/>
<circle cx="367.7" cy="682.2" r="4.5"/>
<circle cx="367.7" cy="682.2" r="4.5"/>
<circle cx="367.7" cy="711.3" r="4.5"/>
<circle cx="367.7" cy="717.6" r="4.5"/>
<circle cx="385.4" cy="533.2" r="4.5"/>
<circle cx="385.4" cy="544.7" r="4.5"/>
<circle cx="385.4" cy="544.7" r="4.5"/>
<circle cx="385.4" cy="555.0" r="4.5"/>
<circle cx="385.4" cy="565.5" r="4.5"/>
<circle cx="385.4" cy="565.5" r="4.5"/>
<circle cx="385.4" cy="575.9" r="4.5"/>
<circle cx="385.4" cy="575.9" r="4.5"/>
<circle cx="385.4" cy="588.4" r="4.5"/>
<circle cx="385.4" cy="598.8" r="4.5"/>
<circle cx="385.4" cy="607.2" r="4.5"/>
<circle cx="385.4" cy="614.5" r="4.5"/>
<circle cx="385.4" cy="628.0" r="4.5"/>
<circle cx="385.4" cy="628.0" r="4.5"/>
<circle cx="385.4" cy="644.7" r="4.5"/>
<circle cx="385.4" cy="653.0" r="4.5"/>
<circle cx="385.4" cy="663.4" r="4.5"/>
<circle cx="385.4" cy="663.4" r="4.5"/>
<circle cx="385.4" cy="688.4" r="4.5"/>
<circle cx="385.4" cy="688.4" r="4.5"/>
<circle cx="385.4" cy="709.2" r="4.5"/>
<circle cx="385.4" cy="717.6" r="4.5"/>
<circle cx="403.2" cy="530.0" r="4.5"/>
<circle cx="403.2" cy="544.7" r="4.5"/>
<circle cx="403.2" cy="544.7" r="4.5"/>
<circle cx="403.2" cy="555.0" r="4.5"/>
<circle cx="403.2" cy="565.5" r="4.5"/>
<circle cx="403.2" cy="572.8" r="4.5"/>
<circle cx="403.2" cy="580.0" r="4.5"/>
<circle cx="403.2" cy="588.4" r="4.5"/>
<circle cx="403.2" cy="596.8" r="4.5"/>
<circle cx="403.2" cy="614.5" r="4.5"/>
<circle cx="403.2" cy="614.5" r="4.5"/>
<circle cx="403.2" cy="630.0" r="4.5"/>
<circle cx="403.2" cy="630.0" r="4.5"/>
<circle cx="403.2" cy="644.7" r="4.5"/>
<circle cx="403.2" cy="655.0" r="4.5"/>
<circle cx="403.2" cy="663.4" r="4.5"/>
<circle cx="403.2" cy="663.4" r="4.5"/>
<circle cx="403.2" cy="675.9" r="4.5"/>
<circle cx="403.2" cy="680.0" r="4.5"/>
<circle cx="403.2" cy="700.9" r="4.5"/>
<circle cx="403.2" cy="711.3" r="4.5"/>
<circle cx="420.9" cy="530.0" r="4.5"/>
<circle cx="420.9" cy="542.6" r="4.5"/>
<circle cx="420.9" cy="555.0" r="4.5"/>
<circle cx="420.9" cy="565.5" r="4.5"/>
<circle cx="420.9" cy="565.5" r="4.5"/>
<circle cx="420.9" cy="565.5" r="4.5"/>
<circle cx="420.9" cy="575.9" r="4.5"/>
<circle cx="420.9" cy="575.9" r="4.5"/>
<circle cx="420.9" cy="588.4" r="4.5"/>
<circle cx="420.9" cy="600.9" r="4.5"/>
<circle cx="420.9" cy="614.5" r="4.5"/>
<circle cx="420.9" cy="614.5" r="4.5"/>
<circle cx="420.9" cy="630.0" r="4.5"/>
<circle cx="420.9" cy="640.5" r="4.5"/>
<circle cx="420.9" cy="646.8" r="4.5"/>
<circle cx="420.9" cy="655.0" r="4.5"/>
<circle cx="420.9" cy="663.4" r="4.5"/>
<circle cx="420.9" cy="673.8" r="4.5"/>
<circle cx="420.9" cy="682.2" r="4.5"/>
<circle cx="420.9" cy="682.2" r="4.5"/>
<circle cx="420.9" cy="692.6" r="4.5"/>
<circle cx="420.9" cy="700.9" r="4.5"/>
<circle cx="420.9" cy="711.3" r="4.5"/>
<circle cx="420.9" cy="723.8" r="4.5"/>
<circle cx="438.7" cy="528.0" r="4.5"/>
<circle cx="438.7" cy="540.5" r="4.5"/>
<circle cx="438.7" cy="540.5" r="4.5"/>
<circle cx="438.7" cy="548.8" r="4.5"/>
<circle cx="438.7" cy="555.1" r="4.5"/>
<circle cx="438.7" cy="561.3" r="4.5"/>
<circle cx="438.7" cy="570.7" r="4.5"/>
<circle cx="438.7" cy="575.9" r="4.5"/>
<circle cx="438.7" cy="575.9" r="4.5"/>
<circle cx="438.7" cy="582.2" r="4.5"/>
<circle cx="438.7" cy="588.4" r="4.5"/>
<circle cx="438.7" cy="598.8" r="4.5"/>
<circle cx="438.7" cy="598.8" r="4.5"/>
<circle cx="438.7" cy="613.4" r="4.5"/>
<circle cx="438.7" cy="613.4" r="4.5"/>
<circle cx="438.7" cy="619.7" r="4.5"/>
<circle cx="438.7" cy="625.9" r="4.5"/>
<circle cx="438.7" cy="632.2" r="4.5"/>
<circle cx="438.7" cy="645.7" r="4.5"/>
<circle cx="438.7" cy="645.7" r="4.5"/>
<circle cx="438.7" cy="645.7" r="4.5"/>
<circle cx="438.7" cy="653.0" r="4.5"/>
<circle cx="438.7" cy="662.4" r="4.5"/>
<circle cx="438.7" cy="662.4" r="4.5"/>
<circle cx="438.7" cy="662.4" r="4.5"/>
<circle cx="438.7" cy="673.8" r="4.5"/>
<circle cx="438.7" cy="682.2" r="4.5"/>
<circle cx="438.7" cy="698.8" r="4.5"/>
<circle cx="438.7" cy="705.1" r="4.5"/>
<circle cx="438.7" cy="711.3" r="4.5"/>
<circle cx="438.7" cy="723.8" r="4.5"/>
<circle cx="456.4" cy="528.0" r="4.5"/>
<circle cx="456.4" cy="534.2" r="4.5"/>
<circle cx="456.4" cy="541.5" r="4.5"/>
<circle cx="456.4" cy="555.1" r="4.5"/>
<circle cx="456.4" cy="565.5" r="4.5"/>
<circle cx="456.4" cy="565.5" r="4.5"/>
<circle cx="456.4" cy="575.9" r="4.5"/>
<circle cx="456.4" cy="590.5" r="4.5"/>
<circle cx="456.4" cy="590.5" r="4.5"/>
<circle cx="456.4" cy="598.8" r="4.5"/>
<circle cx="456.4" cy="605.1" r="4.5"/>
<circle cx="456.4" cy="613.4" r="4.5"/>
<circle cx="456.4" cy="619.7" r="4.5"/>
<circle cx="456.4" cy="623.8" r="4.5"/>
<circle cx="456.4" cy="630.1" r="4.5"/>
<circle cx="456.4" cy="636.3" r="4.5"/>
<circle cx="456.4" cy="645.7" r="4.5"/>
<circle cx="456.4" cy="658.2" r="4.5"/>
<circle cx="456.4" cy="658.2" r="4.5"/>
<circle cx="456.4" cy="663.4" r="4.5"/>
<circle cx="456.4" cy="663.4" r="4.5"/>
<circle cx="456.4" cy="673.8" r="4.5"/>
<circle cx="456.4" cy="682.2" r="4.5"/>
<circle cx="456.4" cy="688.4" r="4.5"/>
<circle cx="456.4" cy="694.7" r="4.5"/>
<circle cx="456.4" cy="703.0" r="4.5"/>
<circle cx="456.4" cy="716.5" r="4.5"/>
<circle cx="456.4" cy="723.8" r="4.5"/>
<circle cx="474.2" cy="533.2" r="4.5"/>
<circle cx="474.2" cy="543.6" r="4.5"/>
<circle cx="474.2" cy="548.8" r="4.5"/>
<circle cx="474.2" cy="554.0" r="4.5"/>
<circle cx="474.2" cy="565.5" r="4.5"/>
<circle cx="474.2" cy="565.5" r="4.5"/>
<circle cx="474.2" cy="570.7" r="4.5"/>
<circle cx="474.2" cy="575.9" r="4.5"/>
<circle cx="474.2" cy="575.9" r="4.5"/>
<circle cx="474.2" cy="588.4" r="4.5"/>
<circle cx="474.2" cy="596.8" r="4.5"/>
<circle cx="474.2" cy="613.4" r="4.5"/>
<circle cx="474.2" cy="619.7" r="4.5"/>
<circle cx="474.2" cy="625.9" r="4.5"/>
<circle cx="474.2" cy="636.3" r="4.5"/>
<circle cx="474.2" cy="641.5" r="4.5"/>
<circle cx="474.2" cy="650.9" r="4.5"/>
<circle cx="474.2" cy="662.4" r="4.5"/>
<circle cx="474.2" cy="673.8" r="4.5"/>
<circle cx="474.2" cy="681.1" r="4.5"/>
<circle cx="474.2" cy="681.1" r="4.5"/>
<circle cx="474.2" cy="688.4" r="4.5"/>
<circle cx="474.2" cy="694.7" r="4.5"/>
<circle cx="474.2" cy="703.0" r="4.5"/>
<circle cx="474.2" cy="703.0" r="4.5"/>
<circle cx="474.2" cy="711.3" r="4.5"/>
<circle cx="474.2" cy="719.7" r="4.5"/>
<circle cx="474.2" cy="719.7" r="4.5"/>
<circle cx="491.9" cy="528.0" r="4.5"/>
<circle cx="491.9" cy="541.5" r="4.5"/>
<circle cx="491.9" cy="541.5" r="4.5"/>
<circle cx="491.9" cy="541.5" r="4.5"/>
<circle cx="491.9" cy="548.8" r="4.5"/>
<circle cx="491.9" cy="555.1" r="4.5"/>
<circle cx="491.9" cy="565.5" r="4.5"/>
<circle cx="491.9" cy="565.5" r="4.5"/>
<circle cx="491.9" cy="575.9" r="4.5"/>
<circle cx="491.9" cy="588.4" r="4.5"/>
<circle cx="491.9" cy="594.7" r="4.5"/>
<circle cx="491.9" cy="600.9" r="4.5"/>
<circle cx="491.9" cy="613.4" r="4.5"/>
<circle cx="491.9" cy="619.7" r="4.5"/>
<circle cx="491.9" cy="630.1" r="4.5"/>
<circle cx="491.9" cy="630.1" r="4.5"/>
<circle cx="491.9" cy="645.7" r="4.5"/>
<circle cx="491.9" cy="645.7" r="4.5"/>
<circle cx="491.9" cy="645.7" r="4.5"/>
<circle cx="491.9" cy="653.0" r="4.5"/>
<circle cx="491.9" cy="661.3" r="4.5"/>
<circle cx="491.9" cy="671.8" r="4.5"/>
<circle cx="491.9" cy="682.2" r="4.5"/>
<circle cx="491.9" cy="703.0" r="4.5"/>
<circle cx="491.9" cy="709.2" r="4.5"/>
<circle cx="491.9" cy="715.5" r="4.5"/>
<circle cx="491.9" cy="723.8" r="4.5"/>
<circle cx="509.7" cy="533.2" r="4.5"/>
<circle cx="509.7" cy="544.7" r="4.5"/>
<circle cx="509.7" cy="544.7" r="4.5"/>
<circle cx="509.7" cy="555.1" r="4.5"/>
<circle cx="509.7" cy="565.5" r="4.5"/>
<circle cx="509.7" cy="571.8" r="4.5"/>
<circle cx="509.7" cy="575.9" r="4.5"/>
<circle cx="509.7" cy="588.4" r="4.5"/>
<circle cx="509.7" cy="588.4" r="4.5"/>
<circle cx="509.7" cy="596.8" r="4.5"/>
<circle cx="509.7" cy="605.1" r="4.5"/>
<circle cx="509.7" cy="613.4" r="4.5"/>
<circle cx="509.7" cy="613.4" r="4.5"/>
<circle cx="509.7" cy="619.7" r="4.5"/>
<circle cx="509.7" cy="630.1" r="4.5"/>
<circle cx="509.7" cy="630.1" r="4.5"/>
<circle cx="509.7" cy="630.1" r="4.5"/>
<circle cx="509.7" cy="636.3" r="4.5"/>
<circle cx="509.7" cy="646.8" r="4.5"/>
<circle cx="509.7" cy="653.0" r="4.5"/>
<circle cx="509.7" cy="659.2" r="4.5"/>
<circle cx="509.7" cy="669.7" r="4.5"/>
<circle cx="509.7" cy="678.0" r="4.5"/>
<circle cx="509.7" cy="688.4" r="4.5"/>
<circle cx="509.7" cy="694.7" r="4.5"/>
<circle cx="509.7" cy="704.0" r="4.5"/>
<circle cx="509.7" cy="722.8" r="4.5"/>
<circle cx="509.7" cy="722.8" r="4.5"/>
<circle cx="527.4" cy="528.0" r="4.5"/>
<circle cx="527.4" cy="534.2" r="4.5"/>
<circle cx="527.4" cy="540.5" r="4.5"/>
<circle cx="527.4" cy="548.8" r="4.5"/>
<circle cx="527.4" cy="559.2" r="4.5"/>
<circle cx="527.4" cy="565.5" r="4.5"/>
<circle cx="527.4" cy="575.9" r="4.5"/>
<circle cx="527.4" cy="588.4" r="4.5"/>
<circle cx="527.4" cy="588.4" r="4.5"/>
<circle cx="527.4" cy="600.9" r="4.5"/>
<circle cx="527.4" cy="600.9" r="4.5"/>
<circle cx="527.4" cy="607.2" r="4.5"/>
<circle cx="527.4" cy="613.4" r="4.5"/>
<circle cx="527.4" cy="613.4" r="4.5"/>
<circle cx="527.4" cy="619.7" r="4.5"/>
<circle cx="527.4" cy="630.1" r="4.5"/>
<circle cx="527.4" cy="630.1" r="4.5"/>
<circle cx="527.4" cy="630.1" r="4.5"/>
<circle cx="527.4" cy="640.5" r="4.5"/>
<circle cx="527.4" cy="645.7" r="4.5"/>
<circle cx="527.4" cy="645.7" r="4.5"/>
<circle cx="527.4" cy="655.1" r="4.5"/>
<circle cx="527.4" cy="662.4" r="4.5"/>
<circle cx="527.4" cy="690.5" r="4.5"/>
<circle cx="527.4" cy="710.3" r="4.5"/>
<circle cx="545.2" cy="528.0" r="4.5"/>
<circle cx="545.2" cy="534.2" r="4.5"/>
<circle cx="545.2" cy="534.2" r="4.5"/>
<circle cx="545.2" cy="540.5" r="4.5"/>
<circle cx="545.2" cy="540.5" r="4.5"/>
<circle cx="545.2" cy="555.1" r="4.5"/>
<circle cx="545.2" cy="555.1" r="4.5"/>
<circle cx="545.2" cy="565.5" r="4.5"/>
<circle cx="545.2" cy="575.9" r="4.5"/>
<circle cx="545.2" cy="588.4" r="4.5"/>
<circle cx="545.2" cy="588.4" r="4.5"/>
<circle cx="545.2" cy="594.7" r="4.5"/>
<circle cx="545.2" cy="600.9" r="4.5"/>
<circle cx="545.2" cy="607.2" r="4.5"/>
<circle cx="545.2" cy="613.4" r="4.5"/>
<circle cx="545.2" cy="613.4" r="4.5"/>
<circle cx="545.2" cy="613.4" r="4.5"/>
<circle cx="545.2" cy="619.7" r="4.5"/>
<circle cx="545.2" cy="625.9" r="4.5"/>
<circle cx="545.2" cy="636.3" r="4.5"/>
<circle cx="545.2" cy="645.7" r="4.5"/>
<circle cx="545.2" cy="645.7" r="4.5"/>
<circle cx="545.2" cy="653.0" r="4.5"/>
<circle cx="545.2" cy="662.4" r="4.5"/>
<circle cx="545.2" cy="662.4" r="4.5"/>
<circle cx="545.2" cy="662.4" r="4.5"/>
<circle cx="545.2" cy="671.8" r="4.5"/>
<circle cx="545.2" cy="682.2" r="4.5"/>
<circle cx="545.2" cy="682.2" r="4.5"/>
<circle cx="545.2" cy="682.2" r="4.5"/>
<circle cx="545.2" cy="694.7" r="4.5"/>
<circle cx="545.2" cy="700.9" r="4.5"/>
<circle cx="545.2" cy="709.2" r="4.5"/>
<circle cx="562.9" cy="528.0" r="4.5"/>
<circle cx="562.9" cy="534.2" r="4.5"/>
<circle cx="562.9" cy="534.2" r="4.5"/>
<circle cx="562.9" cy="544.7" r="4.5"/>
<circle cx="562.9" cy="555.1" r="4.5"/>
<circle cx="562.9" cy="565.5" r="4.5"/>
<circle cx="562.9" cy="565.5" r="4.5"/>
<circle cx="562.9" cy="575.9" r="4.5"/>
<circle cx="562.9" cy="588.4" r="4.5"/>
<circle cx="562.9" cy="588.4" r="4.5"/>
<circle cx="562.9" cy="588.4" r="4.5"/>
<circle cx="562.9" cy="600.9" r="4.5"/>
<circle cx="562.9" cy="607.2" r="4.5"/>
<circle cx="562.9" cy="613.4" r="4.5"/>
<circle cx="562.9" cy="619.7" r="4.5"/>
<circle cx="562.9" cy="630.1" r="4.5"/>
<circle cx="562.9" cy="630.1" r="4.5"/>
<circle cx="562.9" cy="630.1" r="4.5"/>
<circle cx="562.9" cy="636.3" r="4.5"/>
<circle cx="562.9" cy="645.7" r="4.5"/>
<circle cx="562.9" cy="645.7" r="4.5"/>
<circle cx="562.9" cy="645.7" r="4.5"/>
<circle cx="562.9" cy="653.0" r="4.5"/>
<circle cx="562.9" cy="661.3" r="4.5"/>
<circle cx="562.9" cy="661.3" r="4.5"/>
<circle cx="562.9" cy="669.7" r="4.5"/>
<circle cx="562.9" cy="678.0" r="4.5"/>
<circle cx="562.9" cy="682.2" r="4.5"/>
<circle cx="562.9" cy="682.2" r="4.5"/>
<circle cx="562.9" cy="690.5" r="4.5"/>
<circle cx="562.9" cy="696.8" r="4.5"/>
<circle cx="562.9" cy="703.0" r="4.5"/>
<circle cx="562.9" cy="703.0" r="4.5"/>
<circle cx="580.7" cy="528.0" r="4.5"/>
<circle cx="580.7" cy="534.2" r="4.5"/>
<circle cx="580.7" cy="544.7" r="4.5"/>
<circle cx="580.7" cy="544.7" r="4.5"/>
<circle cx="580.7" cy="544.7" r="4.5"/>
<circle cx="580.7" cy="555.1" r="4.5"/>
<circle cx="580.7" cy="565.5" r="4.5"/>
<circle cx="580.7" cy="565.5" r="4.5"/>
<circle cx="580.7" cy="575.9" r="4.5"/>
<circle cx="580.7" cy="588.4" r="4.5"/>
<circle cx="580.7" cy="588.4" r="4.5"/>
<circle cx="580.7" cy="588.4" r="4.5"/>
<circle cx="580.7" cy="600.9" r="4.5"/>
<circle cx="580.7" cy="607.2" r="4.5"/>
<circle cx="580.7" cy="613.4" r="4.5"/>
<circle cx="580.7" cy="613.4" r="4.5"/>
<circle cx="580.7" cy="613.4" r="4.5"/>
<circle cx="580.7" cy="619.7" r="4.5"/>
<circle cx="580.7" cy="625.9" r="4.5"/>
<circle cx="580.7" cy="632.2" r="4.5"/>
<circle cx="580.7" cy="638.4" r="4.5"/>
<circle cx="580.7" cy="638.4" r="4.5"/>
<circle cx="580.7" cy="644.7" r="4.5"/>
<circle cx="580.7" cy="644.7" r="4.5"/>
<circle cx="580.7" cy="653.0" r="4.5"/>
<circle cx="580.7" cy="660.3" r="4.5"/>
<circle cx="580.7" cy="678.0" r="4.5"/>
<circle cx="580.7" cy="682.2" r="4.5"/>
<circle cx="580.7" cy="682.2" r="4.5"/>
<circle cx="580.7" cy="690.5" r="4.5"/>
<circle cx="580.7" cy="696.8" r="4.5"/>
<circle cx="580.7" cy="704.0" r="4.5"/>
<circle cx="598.4" cy="528.0" r="4.5"/>
<circle cx="598.4" cy="534.2" r="4.5"/>
<circle cx="598.4" cy="540.5" r="4.5"/>
<circle cx="598.4" cy="544.7" r="4.5"/>
<circle cx="598.4" cy="553.0" r="4.5"/>
<circle cx="598.4" cy="553.0" r="4.5"/>
<circle cx="598.4" cy="553.0" r="4.5"/>
<circle cx="598.4" cy="565.5" r="4.5"/>
<circle cx="598.4" cy="573.8" r="4.5"/>
<circle cx="598.4" cy="582.2" r="4.5"/>
<circle cx="598.4" cy="588.4" r="4.5"/>
<circle cx="598.4" cy="588.4" r="4.5"/>
<circle cx="598.4" cy="594.7" r="4.5"/>
<circle cx="598.4" cy="600.9" r="4.5"/>
<circle cx="598.4" cy="607.2" r="4.5"/>
<circle cx="598.4" cy="611.3" r="4.5"/>
<circle cx="598.4" cy="611.3" r="4.5"/>
<circle cx="598.4" cy="619.7" r="4.5"/>
<circle cx="598.4" cy="625.9" r="4.5"/>
<circle cx="598.4" cy="636.3" r="4.5"/>
<circle cx="598.4" cy="642.6" r="4.5"/>
<circle cx="598.4" cy="652.0" r="4.5"/>
<circle cx="598.4" cy="652.0" r="4.5"/>
<circle cx="598.4" cy="661.3" r="4.5"/>
<circle cx="598.4" cy="665.5" r="4.5"/>
<circle cx="598.4" cy="678.0" r="4.5"/>
<circle cx="616.2" cy="528.0" r="4.5"/>
<circle cx="616.2" cy="534.2" r="4.5"/>
<circle cx="616.2" cy="544.7" r="4.5"/>
<circle cx="616.2" cy="544.7" r="4.5"/>
<circle cx="616.2" cy="555.1" r="4.5"/>
<circle cx="616.2" cy="565.5" r="4.5"/>
<circle cx="616.2" cy="565.5" r="4.5"/>
<circle cx="616.2" cy="575.9" r="4.5"/>
<circle cx="616.2" cy="588.4" r="4.5"/>
<circle cx="616.2" cy="588.4" r="4.5"/>
<circle cx="616.2" cy="588.4" r="4.5"/>
<circle cx="616.2" cy="600.9" r="4.5"/>
<circle cx="616.2" cy="607.2" r="4.5"/>
<circle cx="616.2" cy="613.4" r="4.5"/>
<circle cx="616.2" cy="619.7" r="4.5"/>
<circle cx="616.2" cy="625.9" r="4.5"/>
<circle cx="616.2" cy="634.2" r="4.5"/>
<circle cx="616.2" cy="642.6" r="4.5"/>
<circle cx="616.2" cy="653.0" r="4.5"/>
<circle cx="616.2" cy="662.4" r="4.5"/>
<circle cx="616.2" cy="662.4" r="4.5"/>
<circle cx="616.2" cy="662.4" r="4.5"/>
<circle cx="616.2" cy="667.6" r="4.5"/>
<circle cx="616.2" cy="682.2" r="4.5"/>
<circle cx="616.2" cy="682.2" r="4.5"/>
<circle cx="616.2" cy="682.2" r="4.5"/>
<circle cx="616.2" cy="688.4" r="4.5"/>
<circle cx="616.2" cy="703.0" r="4.5"/>
<circle cx="616.2" cy="703.0" r="4.5"/>
<circle cx="633.9" cy="528.0" r="4.5"/>
<circle cx="633.9" cy="534.2" r="4.5"/>
<circle cx="633.9" cy="540.5" r="4.5"/>
<circle cx="633.9" cy="544.7" r="4.5"/>
<circle cx="633.9" cy="553.0" r="4.5"/>
<circle cx="633.9" cy="565.5" r="4.5"/>
<circle cx="633.9" cy="573.8" r="4.5"/>
<circle cx="633.9" cy="580.1" r="4.5"/>
<circle cx="633.9" cy="588.4" r="4.5"/>
<circle cx="633.9" cy="588.4" r="4.5"/>
<circle cx="633.9" cy="588.4" r="4.5"/>
<circle cx="633.9" cy="592.6" r="4.5"/>
<circle cx="633.9" cy="600.9" r="4.5"/>
<circle cx="633.9" cy="607.2" r="4.5"/>
<circle cx="633.9" cy="607.2" r="4.5"/>
<circle cx="633.9" cy="613.4" r="4.5"/>
<circle cx="633.9" cy="613.4" r="4.5"/>
<circle cx="633.9" cy="613.4" r="4.5"/>
<circle cx="633.9" cy="619.7" r="4.5"/>
<circle cx="633.9" cy="630.1" r="4.5"/>
<circle cx="633.9" cy="630.1" r="4.5"/>
<circle cx="633.9" cy="636.3" r="4.5"/>
<circle cx="633.9" cy="645.7" r="4.5"/>
<circle cx="633.9" cy="645.7" r="4.5"/>
<circle cx="633.9" cy="653.0" r="4.5"/>
<circle cx="633.9" cy="661.3" r="4.5"/>
<circle cx="633.9" cy="665.5" r="4.5"/>
<circle cx="633.9" cy="673.8" r="4.5"/>
<circle cx="633.9" cy="682.2" r="4.5"/>
<circle cx="633.9" cy="688.4" r="4.5"/>
<circle cx="633.9" cy="688.4" r="4.5"/>
<circle cx="633.9" cy="694.7" r="4.5"/>
<circle cx="633.9" cy="703.0" r="4.5"/>
<circle cx="633.9" cy="719.7" r="4.5"/>
<circle cx="651.7" cy="534.2" r="4.5"/>
<circle cx="651.7" cy="534.2" r="4.5"/>
<circle cx="651.7" cy="534.2" r="4.5"/>
<circle cx="651.7" cy="544.7" r="4.5"/>
<circle cx="651.7" cy="544.7" r="4.5"/>
<circle cx="651.7" cy="555.1" r="4.5"/>
<circle cx="651.7" cy="565.5" r="4.5"/>
<circle cx="651.7" cy="565.5" r="4.5"/>
<circle cx="651.7" cy="575.9" r="4.5"/>
<circle cx="651.7" cy="582.2" r="4.5"/>
<circle cx="651.7" cy="588.4" r="4.5"/>
<circle cx="651.7" cy="594.7" r="4.5"/>
<circle cx="651.7" cy="600.9" r="4.5"/>
<circle cx="651.7" cy="607.2" r="4.5"/>
<circle cx="651.7" cy="613.4" r="4.5"/>
<circle cx="651.7" cy="613.4" r="4.5"/>
<circle cx="651.7" cy="613.4" r="4.5"/>
<circle cx="651.7" cy="619.7" r="4.5"/>
<circle cx="651.7" cy="630.1" r="4.5"/>
<circle cx="651.7" cy="630.1" r="4.5"/>
<circle cx="651.7" cy="636.3" r="4.5"/>
<circle cx="651.7" cy="645.7" r="4.5"/>
<circle cx="651.7" cy="645.7" r="4.5"/>
<circle cx="651.7" cy="653.0" r="4.5"/>
<circle cx="651.7" cy="661.3" r="4.5"/>
<circle cx="651.7" cy="673.8" r="4.5"/>
<circle cx="651.7" cy="682.2" r="4.5"/>
<circle cx="651.7" cy="682.2" r="4.5"/>
<circle cx="651.7" cy="690.5" r="4.5"/>
<circle cx="651.7" cy="696.8" r="4.5"/>
<circle cx="651.7" cy="703.0" r="4.5"/>
<circle cx="669.5" cy="528.0" r="4.5"/>
<circle cx="669.5" cy="534.2" r="4.5"/>
<circle cx="669.5" cy="544.7" r="4.5"/>
<circle cx="669.5" cy="555.1" r="4.5"/>
<circle cx="669.5" cy="565.5" r="4.5"/>
<circle cx="669.5" cy="575.9" r="4.5"/>
<circle cx="669.5" cy="575.9" r="4.5"/>
<circle cx="669.5" cy="588.4" r="4.5"/>
<circle cx="669.5" cy="594.7" r="4.5"/>
<circle cx="669.5" cy="600.9" r="4.5"/>
<circle cx="669.5" cy="600.9" r="4.5"/>
<circle cx="669.5" cy="607.2" r="4.5"/>
<circle cx="669.5" cy="613.4" r="4.5"/>
<circle cx="669.5" cy="613.4" r="4.5"/>
<circle cx="669.5" cy="625.9" r="4.5"/>
<circle cx="669.5" cy="630.1" r="4.5"/>
<circle cx="669.5" cy="630.1" r="4.5"/>
<circle cx="669.5" cy="638.4" r="4.5"/>
<circle cx="669.5" cy="638.4" r="4.5"/>
<circle cx="669.5" cy="644.7" r="4.5"/>
<circle cx="669.5" cy="653.0" r="4.5"/>
<circle cx="669.5" cy="661.3" r="4.5"/>
<circle cx="669.5" cy="673.8" r="4.5"/>
<circle cx="669.5" cy="680.1" r="4.5"/>
<circle cx="669.5" cy="694.7" r="4.5"/>
<circle cx="669.5" cy="700.9" r="4.5"/>
<circle cx="687.2" cy="528.0" r="4.5"/>
<circle cx="687.2" cy="534.2" r="4.5"/>
<circle cx="687.2" cy="534.2" r="4.5"/>
<circle cx="687.2" cy="540.5" r="4.5"/>
<circle cx="687.2" cy="544.7" r="4.5"/>
<circle cx="687.2" cy="553.0" r="4.5"/>
<circle cx="687.2" cy="565.5" r="4.5"/>
<circle cx="687.2" cy="573.8" r="4.5"/>
<circle cx="687.2" cy="582.2" r="4.5"/>
<circle cx="687.2" cy="588.4" r="4.5"/>
<circle cx="687.2" cy="594.7" r="4.5"/>
<circle cx="687.2" cy="600.9" r="4.5"/>
<circle cx="687.2" cy="600.9" r="4.5"/>
<circle cx="687.2" cy="607.2" r="4.5"/>
<circle cx="687.2" cy="613.4" r="4.5"/>
<circle cx="687.2" cy="613.4" r="4.5"/>
<circle cx="687.2" cy="625.9" r="4.5"/>
<circle cx="687.2" cy="630.1" r="4.5"/>
<circle cx="687.2" cy="630.1" r="4.5"/>
<circle cx="687.2" cy="638.4" r="4.5"/>
<circle cx="687.2" cy="644.7" r="4.5"/>
<circle cx="687.2" cy="644.7" r="4.5"/>
<circle cx="687.2" cy="653.0" r="4.5"/>
<circle cx="687.2" cy="661.3" r="4.5"/>
<circle cx="687.2" cy="667.6" r="4.5"/>
<circle cx="687.2" cy="682.2" r="4.5"/>
<circle cx="687.2" cy="692.6" r="4.5"/>
<circle cx="687.2" cy="703.0" r="4.5"/>
<circle cx="687.2" cy="713.4" r="4.5"/>
<circle cx="705.0" cy="534.2" r="4.5"/>
<circle cx="705.0" cy="540.5" r="4.5"/>
<circle cx="705.0" cy="544.7" r="4.5"/>
<circle cx="705.0" cy="544.7" r="4.5"/>
<circle cx="705.0" cy="555.1" r="4.5"/>
<circle cx="705.0" cy="555.1" r="4.5"/>
<circle cx="705.0" cy="565.5" r="4.5"/>
<circle cx="705.0" cy="573.8" r="4.5"/>
<circle cx="705.0" cy="582.2" r="4.5"/>
<circle cx="705.0" cy="588.4" r="4.5"/>
<circle cx="705.0" cy="588.4" r="4.5"/>
<circle cx="705.0" cy="588.4" r="4.5"/>
<circle cx="705.0" cy="594.7" r="4.5"/>
<circle cx="705.0" cy="600.9" r="4.5"/>
<circle cx="705.0" cy="607.2" r="4.5"/>
<circle cx="705.0" cy="613.4" r="4.5"/>
<circle cx="705.0" cy="619.7" r="4.5"/>
<circle cx="705.0" cy="630.1" r="4.5"/>
<circle cx="705.0" cy="638.4" r="4.5"/>
<circle cx="705.0" cy="645.7" r="4.5"/>
<circle cx="705.0" cy="645.7" r="4.5"/>
<circle cx="705.0" cy="653.0" r="4.5"/>
<circle cx="705.0" cy="661.3" r="4.5"/>
<circle cx="705.0" cy="669.7" r="4.5"/>
<circle cx="705.0" cy="682.2" r="4.5"/>
<circle cx="705.0" cy="690.5" r="4.5"/>
<circle cx="705.0" cy="698.8" r="4.5"/>
<circle cx="705.0" cy="703.0" r="4.5"/>
<circle cx="722.7" cy="528.0" r="4.5"/>
<circle cx="722.7" cy="534.2" r="4.5"/>
<circle cx="722.7" cy="542.6" r="4.5"/>
<circle cx="722.7" cy="554.0" r="4.5"/>
<circle cx="722.7" cy="565.5" r="4.5"/>
<circle cx="722.7" cy="575.9" r="4.5"/>
<circle cx="722.7" cy="584.2" r="4.5"/>
<circle cx="722.7" cy="588.4" r="4.5"/>
<circle cx="722.7" cy="588.4" r="4.5"/>
<circle cx="722.7" cy="600.9" r="4.5"/>
<circle cx="722.7" cy="600.9" r="4.5"/>
<circle cx="722.7" cy="600.9" r="4.5"/>
<circle cx="722.7" cy="609.2" r="4.5"/>
<circle cx="722.7" cy="613.4" r="4.5"/>
<circle cx="722.7" cy="619.7" r="4.5"/>
<circle cx="722.7" cy="630.1" r="4.5"/>
<circle cx="722.7" cy="630.1" r="4.5"/>
<circle cx="722.7" cy="636.3" r="4.5"/>
<circle cx="722.7" cy="645.7" r="4.5"/>
<circle cx="722.7" cy="645.7" r="4.5"/>
<circle cx="722.7" cy="653.0" r="4.5"/>
<circle cx="722.7" cy="665.5" r="4.5"/>
<circle cx="722.7" cy="665.5" r="4.5"/>
<circle cx="722.7" cy="675.9" r="4.5"/>
<circle cx="722.7" cy="684.2" r="4.5"/>
<circle cx="722.7" cy="690.5" r="4.5"/>
<circle cx="722.7" cy="703.0" r="4.5"/>
<circle cx="722.7" cy="722.8" r="4.5"/>
<circle cx="740.5" cy="528.0" r="4.5"/>
<circle cx="740.5" cy="532.2" r="4.5"/>
<circle cx="740.5" cy="544.7" r="4.5"/>
<circle cx="740.5" cy="544.7" r="4.5"/>
<circle cx="740.5" cy="554.0" r="4.5"/>
<circle cx="740.5" cy="565.5" r="4.5"/>
<circle cx="740.5" cy="575.9" r="4.5"/>
<circle cx="740.5" cy="575.9" r="4.5"/>
<circle cx="740.5" cy="584.2" r="4.5"/>
<circle cx="740.5" cy="584.2" r="4.5"/>
<circle cx="740.5" cy="588.4" r="4.5"/>
<circle cx="740.5" cy="588.4" r="4.5"/>
<circle cx="740.5" cy="600.9" r="4.5"/>
<circle cx="740.5" cy="613.4" r="4.5"/>
<circle cx="740.5" cy="613.4" r="4.5"/>
<circle cx="740.5" cy="619.7" r="4.5"/>
<circle cx="740.5" cy="630.1" r="4.5"/>
<circle cx="740.5" cy="630.1" r="4.5"/>
<circle cx="740.5" cy="630.1" r="4.5"/>
<circle cx="740.5" cy="636.3" r="4.5"/>
<circle cx="740.5" cy="645.7" r="4.5"/>
<circle cx="740.5" cy="645.7" r="4.5"/>
<circle cx="740.5" cy="645.7" r="4.5"/>
<circle cx="740.5" cy="653.0" r="4.5"/>
<circle cx="740.5" cy="661.3" r="4.5"/>
<circle cx="740.5" cy="661.3" r="4.5"/>
<circle cx="740.5" cy="665.5" r="4.5"/>
<circle cx="740.5" cy="665.5" r="4.5"/>
<circle cx="740.5" cy="673.8" r="4.5"/>
<circle cx="740.5" cy="682.2" r="4.5"/>
<circle cx="740.5" cy="682.2" r="4.5"/>
<circle cx="740.5" cy="690.5" r="4.5"/>
<circle cx="740.5" cy="696.8" r="4.5"/>
<circle cx="740.5" cy="713.4" r="4.5"/>
<circle cx="740.5" cy="718.6" r="4.5"/>
<circle cx="740.5" cy="725.9" r="4.5"/>
<circle cx="758.2" cy="528.0" r="4.5"/>
<circle cx="758.2" cy="536.3" r="4.5"/>
<circle cx="758.2" cy="540.5" r="4.5"/>
<circle cx="758.2" cy="544.7" r="4.5"/>
<circle cx="758.2" cy="548.8" r="4.5"/>
<circle cx="758.2" cy="553.0" r="4.5"/>
<circle cx="758.2" cy="565.5" r="4.5"/>
<circle cx="758.2" cy="565.5" r="4.5"/>
<circle cx="758.2" cy="575.9" r="4.5"/>
<circle cx="758.2" cy="584.2" r="4.5"/>
<circle cx="758.2" cy="588.4" r="4.5"/>
<circle cx="758.2" cy="588.4" r="4.5"/>
<circle cx="758.2" cy="594.7" r="4.5"/>
<circle cx="758.2" cy="600.9" r="4.5"/>
<circle cx="758.2" cy="611.3" r="4.5"/>
<circle cx="758.2" cy="611.3" r="4.5"/>
<circle cx="758.2" cy="615.5" r="4.5"/>
<circle cx="758.2" cy="619.7" r="4.5"/>
<circle cx="758.2" cy="630.1" r="4.5"/>
<circle cx="758.2" cy="630.1" r="4.5"/>
<circle cx="758.2" cy="636.3" r="4.5"/>
<circle cx="758.2" cy="641.5" r="4.5"/>
<circle cx="758.2" cy="646.8" r="4.5"/>
<circle cx="758.2" cy="653.0" r="4.5"/>
<circle cx="758.2" cy="663.4" r="4.5"/>
<circle cx="758.2" cy="663.4" r="4.5"/>
<circle cx="758.2" cy="663.4" r="4.5"/>
<circle cx="758.2" cy="671.8" r="4.5"/>
<circle cx="758.2" cy="682.2" r="4.5"/>
<circle cx="758.2" cy="690.5" r="4.5"/>
<circle cx="758.2" cy="694.7" r="4.5"/>
<circle cx="758.2" cy="703.0" r="4.5"/>
<circle cx="758.2" cy="718.6" r="4.5"/>
<circle cx="776.0" cy="528.0" r="4.5"/>
<circle cx="776.0" cy="540.5" r="4.5"/>
<circle cx="776.0" cy="544.7" r="4.5"/>
<circle cx="776.0" cy="555.1" r="4.5"/>
<circle cx="776.0" cy="565.5" r="4.5"/>
<circle cx="776.0" cy="575.9" r="4.5"/>
<circle cx="776.0" cy="575.9" r="4.5"/>
<circle cx="776.0" cy="588.4" r="4.5"/>
<circle cx="776.0" cy="609.2" r="4.5"/>
<circle cx="776.0" cy="609.2" r="4.5"/>
<circle cx="776.0" cy="619.7" r="4.5"/>
<circle cx="776.0" cy="625.9" r="4.5"/>
<circle cx="776.0" cy="630.1" r="4.5"/>
<circle cx="776.0" cy="630.1" r="4.5"/>
<circle cx="776.0" cy="630.1" r="4.5"/>
<circle cx="776.0" cy="636.3" r="4.5"/>
<circle cx="776.0" cy="646.8" r="4.5"/>
<circle cx="776.0" cy="653.0" r="4.5"/>
<circle cx="776.0" cy="663.4" r="4.5"/>
<circle cx="776.0" cy="663.4" r="4.5"/>
<circle cx="776.0" cy="673.8" r="4.5"/>
<circle cx="776.0" cy="682.2" r="4.5"/>
<circle cx="776.0" cy="682.2" r="4.5"/>
<circle cx="776.0" cy="690.5" r="4.5"/>
<circle cx="776.0" cy="704.0" r="4.5"/>
<circle cx="776.0" cy="704.0" r="4.5"/>
<circle cx="776.0" cy="713.4" r="4.5"/>
<circle cx="793.7" cy="528.0" r="4.5"/>
<circle cx="793.7" cy="534.2" r="4.5"/>
<circle cx="793.7" cy="544.7" r="4.5"/>
<circle cx="793.7" cy="544.7" r="4.5"/>
<circle cx="793.7" cy="555.1" r="4.5"/>
<circle cx="793.7" cy="565.5" r="4.5"/>
<circle cx="793.7" cy="565.5" r="4.5"/>
<circle cx="793.7" cy="575.9" r="4.5"/>
<circle cx="793.7" cy="588.4" r="4.5"/>
<circle cx="793.7" cy="588.4" r="4.5"/>
<circle cx="793.7" cy="594.7" r="4.5"/>
<circle cx="793.7" cy="600.9" r="4.5"/>
<circle cx="793.7" cy="613.4" r="4.5"/>
<circle cx="793.7" cy="613.4" r="4.5"/>
<circle cx="793.7" cy="621.8" r="4.5"/>
<circle cx="793.7" cy="630.1" r="4.5"/>
<circle cx="793.7" cy="636.3" r="4.5"/>
<circle cx="793.7" cy="645.7" r="4.5"/>
<circle cx="793.7" cy="645.7" r="4.5"/>
<circle cx="793.7" cy="653.0" r="4.5"/>
<circle cx="793.7" cy="661.3" r="4.5"/>
<circle cx="793.7" cy="661.3" r="4.5"/>
<circle cx="793.7" cy="673.8" r="4.5"/>
<circle cx="793.7" cy="682.2" r="4.5"/>
<circle cx="793.7" cy="690.5" r="4.5"/>
<circle cx="793.7" cy="698.8" r="4.5"/>
<circle cx="811.5" cy="528.0" r="4.5"/>
<circle cx="811.5" cy="544.7" r="4.5"/>
<circle cx="811.5" cy="544.7" r="4.5"/>
<circle cx="811.5" cy="555.1" r="4.5"/>
<circle cx="811.5" cy="565.5" r="4.5"/>
<circle cx="811.5" cy="575.9" r="4.5"/>
<circle cx="811.5" cy="575.9" r="4.5"/>
<circle cx="811.5" cy="584.2" r="4.5"/>
<circle cx="811.5" cy="590.5" r="4.5"/>
<circle cx="811.5" cy="600.9" r="4.5"/>
<circle cx="811.5" cy="613.4" r="4.5"/>
<circle cx="811.5" cy="613.4" r="4.5"/>
<circle cx="811.5" cy="625.9" r="4.5"/>
<circle cx="811.5" cy="630.1" r="4.5"/>
<circle cx="811.5" cy="636.3" r="4.5"/>
<circle cx="811.5" cy="645.7" r="4.5"/>
<circle cx="811.5" cy="645.7" r="4.5"/>
<circle cx="811.5" cy="653.0" r="4.5"/>
<circle cx="811.5" cy="661.3" r="4.5"/>
<circle cx="811.5" cy="669.7" r="4.5"/>
<circle cx="811.5" cy="682.2" r="4.5"/>
<circle cx="811.5" cy="682.2" r="4.5"/>
<circle cx="811.5" cy="704.0" r="4.5"/>
<circle cx="811.5" cy="704.0" r="4.5"/>
<circle cx="829.2" cy="528.0" r="4.5"/>
<circle cx="829.2" cy="536.3" r="4.5"/>
<circle cx="829.2" cy="544.7" r="4.5"/>
<circle cx="829.2" cy="544.7" r="4.5"/>
<circle cx="829.2" cy="544.7" r="4.5"/>
<circle cx="829.2" cy="555.1" r="4.5"/>
<circle cx="829.2" cy="565.5" r="4.5"/>
<circle cx="829.2" cy="565.5" r="4.5"/>
<circle cx="829.2" cy="575.9" r="4.5"/>
<circle cx="829.2" cy="588.4" r="4.5"/>
<circle cx="829.2" cy="588.4" r="4.5"/>
<circle cx="829.2" cy="596.8" r="4.5"/>
<circle cx="829.2" cy="603.0" r="4.5"/>
<circle cx="829.2" cy="607.2" r="4.5"/>
<circle cx="829.2" cy="607.2" r="4.5"/>
<circle cx="829.2" cy="613.4" r="4.5"/>
<circle cx="829.2" cy="619.7" r="4.5"/>
<circle cx="829.2" cy="638.4" r="4.5"/>
<circle cx="829.2" cy="645.7" r="4.5"/>
<circle cx="829.2" cy="645.7" r="4.5"/>
<circle cx="829.2" cy="653.0" r="4.5"/>
<circle cx="829.2" cy="663.4" r="4.5"/>
<circle cx="829.2" cy="663.4" r="4.5"/>
<circle cx="829.2" cy="678.0" r="4.5"/>
<circle cx="829.2" cy="700.9" r="4.5"/>
<circle cx="829.2" cy="709.2" r="4.5"/>
<circle cx="847.0" cy="528.0" r="4.5"/>
<circle cx="847.0" cy="534.2" r="4.5"/>
<circle cx="847.0" cy="540.5" r="4.5"/>
<circle cx="847.0" cy="544.7" r="4.5"/>
<circle cx="847.0" cy="544.7" r="4.5"/>
<circle cx="847.0" cy="544.7" r="4.5"/>
<circle cx="847.0" cy="548.8" r="4.5"/>
<circle cx="847.0" cy="555.1" r="4.5"/>
<circle cx="847.0" cy="565.5" r="4.5"/>
<circle cx="847.0" cy="575.9" r="4.5"/>
<circle cx="847.0" cy="588.4" r="4.5"/>
<circle cx="847.0" cy="588.4" r="4.5"/>
<circle cx="847.0" cy="600.9" r="4.5"/>
<circle cx="847.0" cy="609.2" r="4.5"/>
<circle cx="847.0" cy="609.2" r="4.5"/>
<circle cx="847.0" cy="613.4" r="4.5"/>
<circle cx="847.0" cy="613.4" r="4.5"/>
<circle cx="847.0" cy="619.7" r="4.5"/>
<circle cx="847.0" cy="630.1" r="4.5"/>
<circle cx="847.0" cy="645.7" r="4.5"/>
<circle cx="847.0" cy="645.7" r="4.5"/>
<circle cx="847.0" cy="645.7" r="4.5"/>
<circle cx="847.0" cy="653.0" r="4.5"/>
<circle cx="847.0" cy="661.3" r="4.5"/>
<circle cx="847.0" cy="667.6" r="4.5"/>
<circle cx="847.0" cy="678.0" r="4.5"/>
<circle cx="847.0" cy="678.0" r="4.5"/>
<circle cx="847.0" cy="686.3" r="4.5"/>
<circle cx="847.0" cy="715.5" r="4.5"/>
<circle cx="847.0" cy="725.9" r="4.5"/>
<circle cx="864.7" cy="528.0" r="4.5"/>
<circle cx="864.7" cy="534.2" r="4.5"/>
<circle cx="864.7" cy="540.5" r="4.5"/>
<circle cx="864.7" cy="544.7" r="4.5"/>
<circle cx="864.7" cy="548.8" r="4.5"/>
<circle cx="864.7" cy="555.1" r="4.5"/>
<circle cx="864.7" cy="565.5" r="4.5"/>
<circle cx="864.7" cy="575.9" r="4.5"/>
<circle cx="864.7" cy="588.4" r="4.5"/>
<circle cx="864.7" cy="588.4" r="4.5"/>
<circle cx="864.7" cy="594.7" r="4.5"/>
<circle cx="864.7" cy="600.9" r="4.5"/>
<circle cx="864.7" cy="619.7" r="4.5"/>
<circle cx="864.7" cy="619.7" r="4.5"/>
<circle cx="864.7" cy="630.1" r="4.5"/>
<circle cx="864.7" cy="636.3" r="4.5"/>
<circle cx="864.7" cy="645.7" r="4.5"/>
<circle cx="864.7" cy="645.7" r="4.5"/>
<circle cx="864.7" cy="659.2" r="4.5"/>
<circle cx="864.7" cy="663.4" r="4.5"/>
<circle cx="864.7" cy="678.0" r="4.5"/>
<circle cx="864.7" cy="684.2" r="4.5"/>
<circle cx="864.7" cy="690.5" r="4.5"/>
<circle cx="864.7" cy="704.0" r="4.5"/>
<circle cx="882.5" cy="534.2" r="4.5"/>
<circle cx="882.5" cy="555.1" r="4.5"/>
<circle cx="882.5" cy="565.5" r="4.5"/>
<circle cx="882.5" cy="575.9" r="4.5"/>
<circle cx="882.5" cy="588.4" r="4.5"/>
<circle cx="882.5" cy="600.9" r="4.5"/>
<circle cx="882.5" cy="600.9" r="4.5"/>
<circle cx="882.5" cy="613.4" r="4.5"/>
<circle cx="882.5" cy="619.7" r="4.5"/>
<circle cx="882.5" cy="630.1" r="4.5"/>
<circle cx="882.5" cy="638.4" r="4.5"/>
<circle cx="882.5" cy="645.7" r="4.5"/>
<circle cx="882.5" cy="645.7" r="4.5"/>
<circle cx="882.5" cy="653.0" r="4.5"/>
<circle cx="882.5" cy="665.5" r="4.5"/>
<circle cx="882.5" cy="665.5" r="4.5"/>
<circle cx="882.5" cy="678.0" r="4.5"/>
<circle cx="882.5" cy="678.0" r="4.5"/>
<circle cx="882.5" cy="690.5" r="4.5"/>
<circle cx="882.5" cy="690.5" r="4.5"/>
<circle cx="882.5" cy="703.0" r="4.5"/>
<circle cx="882.5" cy="711.3" r="4.5"/>
<circle cx="882.5" cy="718.6" r="4.5"/>
<circle cx="900.2" cy="565.5" r="4.5"/>
<circle cx="900.2" cy="565.5" r="4.5"/>
<circle cx="900.2" cy="590.5" r="4.5"/>
<circle cx="900.2" cy="600.9" r="4.5"/>
<circle cx="900.2" cy="600.9" r="4.5"/>
<circle cx="900.2" cy="607.2" r="4.5"/>
<circle cx="900.2" cy="623.8" r="4.5"/>
<circle cx="900.2" cy="630.1" r="4.5"/>
<circle cx="900.2" cy="640.5" r="4.5"/>
<circle cx="900.2" cy="644.7" r="4.5"/>
<circle cx="900.2" cy="663.4" r="4.5"/>
<circle cx="900.2" cy="663.4" r="4.5"/>
<circle cx="900.2" cy="673.8" r="4.5"/>
<circle cx="900.2" cy="682.2" r="4.5"/>
<circle cx="900.2" cy="682.2" r="4.5"/>
<circle cx="900.2" cy="696.8" r="4.5"/>
<circle cx="918.0" cy="538.4" r="4.5"/>
<circle cx="918.0" cy="542.6" r="4.5"/>
<circle cx="918.0" cy="555.1" r="4.5"/>
<circle cx="918.0" cy="565.5" r="4.5"/>
<circle cx="918.0" cy="575.9" r="4.5"/>
<circle cx="918.0" cy="588.4" r="4.5"/>
<circle cx="918.0" cy="594.7" r="4.5"/>
<circle cx="918.0" cy="600.9" r="4.5"/>
<circle cx="918.0" cy="600.9" r="4.5"/>
<circle cx="918.0" cy="623.8" r="4.5"/>
<circle cx="918.0" cy="632.2" r="4.5"/>
<circle cx="918.0" cy="632.2" r="4.5"/>
<circle cx="918.0" cy="650.9" r="4.5"/>
<circle cx="918.0" cy="673.8" r="4.5"/>
<circle cx="918.0" cy="673.8" r="4.5"/>
<circle cx="918.0" cy="682.2" r="4.5"/>
<circle cx="918.0" cy="718.6" r="4.5"/>
<circle cx="935.7" cy="534.2" r="4.5"/>
<circle cx="935.7" cy="534.2" r="4.5"/>
<circle cx="935.7" cy="540.5" r="4.5"/>
<circle cx="935.7" cy="557.2" r="4.5"/>
<circle cx="935.7" cy="575.9" r="4.5"/>
<circle cx="935.7" cy="582.2" r="4.5"/>
<circle cx="935.7" cy="596.8" r="4.5"/>
<circle cx="935.7" cy="596.8" r="4.5"/>
<circle cx="935.7" cy="613.4" r="4.5"/>
<circle cx="935.7" cy="613.4" r="4.5"/>
<circle cx="935.7" cy="630.1" r="4.5"/>
<circle cx="935.7" cy="630.1" r="4.5"/>
<circle cx="935.7" cy="642.6" r="4.5"/>
<circle cx="935.7" cy="642.6" r="4.5"/>
<circle cx="935.7" cy="659.2" r="4.5"/>
<circle cx="935.7" cy="665.5" r="4.5"/>
<circle cx="935.7" cy="665.5" r="4.5"/>
<circle cx="935.7" cy="704.0" r="4.5"/>
<circle cx="935.7" cy="723.8" r="4.5"/>
<circle cx="953.5" cy="534.2" r="4.5"/>
<circle cx="953.5" cy="534.2" r="4.5"/>
<circle cx="953.5" cy="544.7" r="4.5"/>
<circle cx="953.5" cy="544.7" r="4.5"/>
<circle cx="953.5" cy="565.5" r="4.5"/>
<circle cx="953.5" cy="588.4" r="4.5"/>
<circle cx="953.5" cy="609.2" r="4.5"/>
<circle cx="953.5" cy="613.4" r="4.5"/>
<circle cx="953.5" cy="630.1" r="4.5"/>
<circle cx="953.5" cy="630.1" r="4.5"/>
<circle cx="953.5" cy="642.6" r="4.5"/>
<circle cx="953.5" cy="642.6" r="4.5"/>
<circle cx="953.5" cy="663.4" r="4.5"/>
<circle cx="953.5" cy="663.4" r="4.5"/>
<circle cx="953.5" cy="682.2" r="4.5"/>
<circle cx="953.5" cy="711.3" r="4.5"/>
<circle cx="971.2" cy="542.6" r="4.5"/>
<circle cx="971.2" cy="548.8" r="4.5"/>
<circle cx="971.2" cy="555.1" r="4.5"/>
<circle cx="971.2" cy="565.5" r="4.5"/>
<circle cx="971.2" cy="565.5" r="4.5"/>
<circle cx="971.2" cy="588.4" r="4.5"/>
<circle cx="971.2" cy="613.4" r="4.5"/>
<circle cx="971.2" cy="636.3" r="4.5"/>
<circle cx="971.2" cy="655.1" r="4.5"/>
<circle cx="971.2" cy="680.1" r="4.5"/>
<circle cx="971.2" cy="706.1" r="4.5"/>
<circle cx="971.2" cy="577.0" r="4.5"/>
<circle cx="971.2" cy="680.0" r="4.5"/>
<circle cx="971.2" cy="728.8" r="4.5"/>
<circle cx="989.0" cy="566.0" r="4.5"/>
<circle cx="989.0" cy="575.9" r="4.5"/>
<circle cx="989.0" cy="575.9" r="4.5"/>
<circle cx="989.0" cy="588.2" r="4.5"/>
<circle cx="989.0" cy="594.3" r="4.5"/>
<circle cx="989.0" cy="615.2" r="4.5"/>
<circle cx="989.0" cy="626.2" r="4.5"/>
<circle cx="989.0" cy="626.2" r="4.5"/>
<circle cx="989.0" cy="638.5" r="4.5"/>
<circle cx="989.0" cy="743.6" r="4.5"/>
<circle cx="1006.7" cy="548.9" r="4.5"/>
<circle cx="1006.7" cy="566.0" r="4.5"/>
<circle cx="1006.7" cy="601.7" r="4.5"/>
<circle cx="1006.7" cy="625.7" r="4.5"/>
<circle cx="1006.7" cy="645.9" r="4.5"/>
<circle cx="1006.7" cy="645.9" r="4.5"/>
<circle cx="1006.7" cy="681.5" r="4.5"/>
<circle cx="1006.7" cy="687.6" r="4.5"/>
<circle cx="1024.5" cy="544.7" r="4.5"/>
<circle cx="1024.5" cy="566.0" r="4.5"/>
<circle cx="1024.5" cy="588.2" r="4.5"/>
<circle cx="1024.5" cy="615.2" r="4.5"/>
<circle cx="1024.5" cy="615.2" r="4.5"/>
<circle cx="1024.5" cy="628.7" r="4.5"/>
<circle cx="1024.5" cy="632.4" r="4.5"/>
<circle cx="1024.5" cy="632.4" r="4.5"/>
<circle cx="1024.5" cy="662.6" r="4.5"/>
<circle cx="1024.5" cy="690.5" r="4.5"/>
<circle cx="1042.2" cy="539.0" r="4.5"/>
<circle cx="1042.2" cy="554.5" r="4.5"/>
<circle cx="1042.2" cy="645.9" r="4.5"/>
<circle cx="1042.2" cy="673.8" r="4.5"/>
<circle cx="1042.2" cy="719.5" r="4.5"/>
<circle cx="1060.0" cy="567.3" r="4.5"/>
<circle cx="1060.0" cy="588.2" r="4.5"/>
<circle cx="1060.0" cy="645.9" r="4.5"/>
<circle cx="1060.0" cy="645.9" r="4.5"/>
<circle cx="1077.7" cy="576.6" r="4.5"/>
<circle cx="1077.7" cy="662.6" r="4.5"/>
<circle cx="1077.7" cy="671.6" r="4.5"/>
<circle cx="1095.5" cy="542.7" r="4.5"/>
<circle cx="1095.5" cy="611.5" r="4.5"/>
<circle cx="1095.5" cy="614.0" r="4.5"/>
<circle cx="1095.5" cy="645.9" r="4.5"/>
<circle cx="1095.5" cy="669.9" r="4.5"/>
<circle cx="1095.5" cy="741.6" r="4.5"/>
<circle cx="1113.3" cy="566.0" r="4.5"/>
<circle cx="1113.3" cy="599.2" r="4.5"/>
<circle cx="1113.3" cy="609.0" r="4.5"/>
<circle cx="1113.3" cy="615.2" r="4.5"/>
<circle cx="1113.3" cy="615.2" r="4.5"/>
<circle cx="1113.3" cy="629.9" r="4.5"/>
<circle cx="1113.3" cy="641.0" r="4.5"/>
<circle cx="1113.3" cy="645.9" r="4.5"/>
<circle cx="1131.0" cy="633.1" r="4.5"/>
<circle cx="1131.0" cy="645.9" r="4.5"/>
<circle cx="1148.8" cy="566.0" r="4.5"/>
<circle cx="1148.8" cy="632.4" r="4.5"/>
<circle cx="1148.8" cy="639.0" r="4.5"/>
<circle cx="1148.8" cy="677.8" r="4.5"/>
<circle cx="1166.5" cy="615.2" r="4.5"/>
<circle cx="1166.5" cy="690.5" r="4.5"/>
<circle cx="1184.3" cy="652.0" r="4.5"/>
<circle cx="1184.3" cy="733.8" r="4.5"/>
<circle cx="1202.0" cy="674.1" r="4.5"/>
<circle cx="1202.0" cy="682.2" r="4.5"/>
<circle cx="1219.8" cy="615.2" r="4.5"/>
<circle cx="1273.0" cy="629.9" r="4.5"/>
<circle cx="1273.0" cy="645.9" r="4.5"/>
<circle cx="1273.0" cy="658.1" r="4.5"/>
<circle cx="1273.0" cy="666.0" r="4.5"/>
<circle cx="172.4" cy="743.8" r="4.5"/>
<circle cx="172.4" cy="763.5" r="4.5"/>
<circle cx="190.1" cy="730.8" r="4.5"/>
<circle cx="190.1" cy="730.8" r="4.5"/>
<circle cx="190.1" cy="738.1" r="4.5"/>
<circle cx="190.1" cy="758.3" r="4.5"/>
<circle cx="190.1" cy="765.0" r="4.5"/>
<circle cx="190.1" cy="791.0" r="4.5"/>
<circle cx="190.1" cy="791.0" r="4.5"/>
<circle cx="190.1" cy="802.0" r="4.5"/>
<circle cx="207.9" cy="751.7" r="4.5"/>
<circle cx="207.9" cy="759.0" r="4.5"/>
<circle cx="225.7" cy="733.0" r="4.5"/>
<circle cx="225.7" cy="733.0" r="4.5"/>
<circle cx="225.7" cy="743.8" r="4.5"/>
<circle cx="225.7" cy="795.8" r="4.5"/>
<circle cx="243.4" cy="732.3" r="4.5"/>
<circle cx="243.4" cy="756.2" r="4.5"/>
<circle cx="243.4" cy="758.8" r="4.5"/>
<circle cx="243.4" cy="782.3" r="4.5"/>
<circle cx="243.4" cy="782.3" r="4.5"/>
<circle cx="243.4" cy="787.5" r="4.5"/>
<circle cx="261.2" cy="730.8" r="4.5"/>
<circle cx="261.2" cy="730.8" r="4.5"/>
<circle cx="261.2" cy="743.8" r="4.5"/>
<circle cx="261.2" cy="767.7" r="4.5"/>
<circle cx="261.2" cy="776.7" r="4.5"/>
<circle cx="261.2" cy="781.7" r="4.5"/>
<circle cx="261.2" cy="801.7" r="4.5"/>
<circle cx="278.9" cy="737.5" r="4.5"/>
<circle cx="278.9" cy="737.5" r="4.5"/>
<circle cx="278.9" cy="759.0" r="4.5"/>
<circle cx="296.7" cy="730.8" r="4.5"/>
<circle cx="296.7" cy="730.8" r="4.5"/>
<circle cx="296.7" cy="743.8" r="4.5"/>
<circle cx="314.4" cy="772.9" r="4.5"/>
<circle cx="332.2" cy="730.8" r="4.5"/>
<circle cx="332.2" cy="811.9" r="4.5"/>
<circle cx="349.9" cy="730.8" r="4.5"/>
<circle cx="349.9" cy="730.8" r="4.5"/>
<circle cx="349.9" cy="782.7" r="4.5"/>
<circle cx="385.4" cy="734.4" r="4.5"/>
<circle cx="403.2" cy="758.8" r="4.5"/>
<circle cx="403.2" cy="767.7" r="4.5"/>
<circle cx="420.9" cy="729.2" r="4.5"/>
<circle cx="420.9" cy="743.8" r="4.5"/>
<circle cx="420.9" cy="748.3" r="4.5"/>
<circle cx="438.7" cy="817.7" r="4.5"/>
<circle cx="438.7" cy="730.2" r="4.5"/>
<circle cx="491.9" cy="731.2" r="4.5"/>
<circle cx="509.7" cy="731.2" r="4.5"/>
<circle cx="509.7" cy="782.9" r="4.5"/>
<circle cx="527.4" cy="747.9" r="4.5"/>
<circle cx="527.4" cy="809.8" r="4.5"/>
<circle cx="545.2" cy="750.0" r="4.5"/>
<circle cx="562.9" cy="741.7" r="4.5"/>
<circle cx="562.9" cy="759.0" r="4.5"/>
<circle cx="562.9" cy="801.7" r="4.5"/>
<circle cx="580.7" cy="771.9" r="4.5"/>
<circle cx="598.4" cy="743.8" r="4.5"/>
<circle cx="598.4" cy="787.5" r="4.5"/>
<circle cx="616.2" cy="730.8" r="4.5"/>
<circle cx="616.2" cy="743.8" r="4.5"/>
<circle cx="616.2" cy="754.6" r="4.5"/>
<circle cx="616.2" cy="776.7" r="4.5"/>
<circle cx="616.2" cy="819.8" r="4.5"/>
<circle cx="633.9" cy="759.0" r="4.5"/>
<circle cx="651.7" cy="765.6" r="4.5"/>
<circle cx="651.7" cy="776.7" r="4.5"/>
<circle cx="669.5" cy="730.8" r="4.5"/>
<circle cx="669.5" cy="743.8" r="4.5"/>
<circle cx="669.5" cy="759.0" r="4.5"/>
<circle cx="687.2" cy="730.8" r="4.5"/>
<circle cx="687.2" cy="739.6" r="4.5"/>
<circle cx="687.2" cy="801.7" r="4.5"/>
<circle cx="705.0" cy="743.8" r="4.5"/>
<circle cx="705.0" cy="747.9" r="4.5"/>
<circle cx="705.0" cy="809.8" r="4.5"/>
<circle cx="722.7" cy="738.5" r="4.5"/>
<circle cx="722.7" cy="747.9" r="4.5"/>
<circle cx="740.5" cy="730.8" r="4.5"/>
<circle cx="740.5" cy="730.8" r="4.5"/>
<circle cx="740.5" cy="741.7" r="4.5"/>
<circle cx="740.5" cy="751.0" r="4.5"/>
<circle cx="776.0" cy="737.5" r="4.5"/>
<circle cx="776.0" cy="750.0" r="4.5"/>
<circle cx="776.0" cy="750.0" r="4.5"/>
<circle cx="776.0" cy="812.5" r="4.5"/>
<circle cx="793.7" cy="730.8" r="4.5"/>
<circle cx="829.2" cy="730.8" r="4.5"/>
<circle cx="829.2" cy="751.0" r="4.5"/>
<circle cx="847.0" cy="767.7" r="4.5"/>
<circle cx="882.5" cy="730.8" r="4.5"/>
<circle cx="882.5" cy="787.5" r="4.5"/>
<circle cx="882.5" cy="787.5" r="4.5"/>
<circle cx="900.2" cy="732.7" r="4.5"/>
<circle cx="918.0" cy="728.1" r="4.5"/>
<circle cx="918.0" cy="781.9" r="4.5"/>
<circle cx="953.5" cy="806.9" r="4.5"/>
<circle cx="1077.7" cy="768.0" r="4.5"/>
<circle cx="1148.8" cy="768.0" r="4.5"/>
<circle cx="243.4" cy="669.0" r="4.5"/>
<circle cx="278.9" cy="542.4" r="4.5"/>
<circle cx="278.9" cy="566.8" r="4.5"/>
<circle cx="278.9" cy="673.1" r="4.5"/>
<circle cx="278.9" cy="548.8" r="4.5"/>
<circle cx="296.7" cy="562.9" r="4.5"/>
<circle cx="296.7" cy="688.1" r="4.5"/>
<circle cx="296.7" cy="701.0" r="4.5"/>
<circle cx="296.7" cy="639.6" r="4.5"/>
<circle cx="296.7" cy="538.5" r="4.5"/>
<circle cx="296.7" cy="633.0" r="4.5"/>
<circle cx="314.4" cy="551.5" r="4.5"/>
<circle cx="314.4" cy="672.5" r="4.5"/>
<circle cx="314.4" cy="569.2" r="4.5"/>
<circle cx="314.4" cy="588.2" r="4.5"/>
<circle cx="314.4" cy="563.1" r="4.5"/>
<circle cx="314.4" cy="652.3" r="4.5"/>
<circle cx="314.4" cy="569.4" r="4.5"/>
<circle cx="314.4" cy="554.3" r="4.5"/>
<circle cx="314.4" cy="590.2" r="4.5"/>
<circle cx="314.4" cy="647.0" r="4.5"/>
<circle cx="314.4" cy="675.6" r="4.5"/>
<circle cx="332.2" cy="610.6" r="4.5"/>
<circle cx="332.2" cy="603.9" r="4.5"/>
<circle cx="332.2" cy="590.5" r="4.5"/>
<circle cx="332.2" cy="547.4" r="4.5"/>
<circle cx="332.2" cy="619.9" r="4.5"/>
<circle cx="332.2" cy="658.8" r="4.5"/>
<circle cx="332.2" cy="580.3" r="4.5"/>
<circle cx="332.2" cy="672.9" r="4.5"/>
<circle cx="332.2" cy="577.6" r="4.5"/>
<circle cx="332.2" cy="658.0" r="4.5"/>
<circle cx="332.2" cy="563.5" r="4.5"/>
<circle cx="349.9" cy="686.0" r="4.5"/>
<circle cx="349.9" cy="633.2" r="4.5"/>
<circle cx="349.9" cy="636.3" r="4.5"/>
<circle cx="349.9" cy="700.3" r="4.5"/>
<circle cx="349.9" cy="676.6" r="4.5"/>
<circle cx="349.9" cy="623.1" r="4.5"/>
<circle cx="349.9" cy="683.4" r="4.5"/>
<circle cx="349.9" cy="629.8" r="4.5"/>
<circle cx="349.9" cy="631.6" r="4.5"/>
<circle cx="349.9" cy="662.1" r="4.5"/>
<circle cx="349.9" cy="669.6" r="4.5"/>
<circle cx="349.9" cy="648.5" r="4.5"/>
<circle cx="349.9" cy="549.8" r="4.5"/>
<circle cx="367.7" cy="576.3" r="4.5"/>
<circle cx="367.7" cy="584.7" r="4.5"/>
<circle cx="367.7" cy="627.4" r="4.5"/>
<circle cx="367.7" cy="545.3" r="4.5"/>
<circle cx="367.7" cy="557.1" r="4.5"/>
<circle cx="367.7" cy="551.6" r="4.5"/>
<circle cx="367.7" cy="649.4" r="4.5"/>
<circle cx="367.7" cy="641.4" r="4.5"/>
<circle cx="367.7" cy="629.4" r="4.5"/>
<circle cx="367.7" cy="582.2" r="4.5"/>
<circle cx="367.7" cy="552.3" r="4.5"/>
<circle cx="367.7" cy="590.4" r="4.5"/>
<circle cx="367.7" cy="601.8" r="4.5"/>
<circle cx="367.7" cy="621.8" r="4.5"/>
<circle cx="367.7" cy="632.4" r="4.5"/>
<circle cx="367.7" cy="716.1" r="4.5"/>
<circle cx="367.7" cy="685.5" r="4.5"/>
<circle cx="367.7" cy="715.1" r="4.5"/>
<circle cx="367.7" cy="632.8" r="4.5"/>
<circle cx="367.7" cy="668.7" r="4.5"/>
<circle cx="367.7" cy="640.8" r="4.5"/>
<circle cx="385.4" cy="599.8" r="4.5"/>
<circle cx="385.4" cy="712.5" r="4.5"/>
<circle cx="385.4" cy="550.1" r="4.5"/>
<circle cx="385.4" cy="569.5" r="4.5"/>
<circle cx="385.4" cy="565.5" r="4.5"/>
<circle cx="385.4" cy="651.0" r="4.5"/>
<circle cx="385.4" cy="597.0" r="4.5"/>
<circle cx="385.4" cy="666.6" r="4.5"/>
<circle cx="385.4" cy="657.3" r="4.5"/>
<circle cx="385.4" cy="649.6" r="4.5"/>
<circle cx="385.4" cy="718.2" r="4.5"/>
<circle cx="385.4" cy="703.2" r="4.5"/>
<circle cx="385.4" cy="576.6" r="4.5"/>
<circle cx="385.4" cy="565.5" r="4.5"/>
<circle cx="385.4" cy="706.1" r="4.5"/>
<circle cx="385.4" cy="583.7" r="4.5"/>
<circle cx="385.4" cy="652.5" r="4.5"/>
<circle cx="385.4" cy="570.2" r="4.5"/>
<circle cx="385.4" cy="613.6" r="4.5"/>
<circle cx="385.4" cy="553.2" r="4.5"/>
<circle cx="385.4" cy="647.9" r="4.5"/>
<circle cx="385.4" cy="585.3" r="4.5"/>
<circle cx="385.4" cy="648.6" r="4.5"/>
<circle cx="385.4" cy="597.9" r="4.5"/>
<circle cx="403.2" cy="580.3" r="4.5"/>
<circle cx="403.2" cy="601.6" r="4.5"/>
<circle cx="403.2" cy="586.4" r="4.5"/>
<circle cx="403.2" cy="581.9" r="4.5"/>
<circle cx="403.2" cy="529.3" r="4.5"/>
<circle cx="403.2" cy="532.0" r="4.5"/>
<circle cx="403.2" cy="580.7" r="4.5"/>
<circle cx="403.2" cy="639.4" r="4.5"/>
<circle cx="403.2" cy="660.4" r="4.5"/>
<circle cx="403.2" cy="657.8" r="4.5"/>
<circle cx="403.2" cy="702.5" r="4.5"/>
<circle cx="403.2" cy="584.2" r="4.5"/>
<circle cx="403.2" cy="536.8" r="4.5"/>
<circle cx="403.2" cy="706.3" r="4.5"/>
<circle cx="403.2" cy="551.5" r="4.5"/>
<circle cx="403.2" cy="575.8" r="4.5"/>
<circle cx="403.2" cy="581.8" r="4.5"/>
<circle cx="403.2" cy="706.6" r="4.5"/>
<circle cx="403.2" cy="639.9" r="4.5"/>
<circle cx="403.2" cy="560.9" r="4.5"/>
<circle cx="403.2" cy="645.7" r="4.5"/>
<circle cx="403.2" cy="666.2" r="4.5"/>
<circle cx="403.2" cy="589.8" r="4.5"/>
<circle cx="403.2" cy="581.7" r="4.5"/>
<circle cx="403.2" cy="679.9" r="4.5"/>
<circle cx="403.2" cy="565.6" r="4.5"/>
<circle cx="403.2" cy="694.8" r="4.5"/>
<circle cx="403.2" cy="659.9" r="4.5"/>
<circle cx="420.9" cy="537.3" r="4.5"/>
<circle cx="420.9" cy="533.4" r="4.5"/>
<circle cx="420.9" cy="554.8" r="4.5"/>
<circle cx="420.9" cy="700.9" r="4.5"/>
<circle cx="420.9" cy="597.1" r="4.5"/>
<circle cx="420.9" cy="605.7" r="4.5"/>
<circle cx="420.9" cy="701.7" r="4.5"/>
<circle cx="420.9" cy="615.0" r="4.5"/>
<circle cx="420.9" cy="705.1" r="4.5"/>
<circle cx="420.9" cy="675.1" r="4.5"/>
<circle cx="420.9" cy="652.9" r="4.5"/>
<circle cx="420.9" cy="675.5" r="4.5"/>
<circle cx="420.9" cy="689.9" r="4.5"/>
<circle cx="420.9" cy="680.5" r="4.5"/>
<circle cx="420.9" cy="563.2" r="4.5"/>
<circle cx="420.9" cy="716.1" r="4.5"/>
<circle cx="420.9" cy="689.0" r="4.5"/>
<circle cx="420.9" cy="579.0" r="4.5"/>
<circle cx="420.9" cy="568.3" r="4.5"/>
<circle cx="420.9" cy="594.5" r="4.5"/>
<circle cx="420.9" cy="573.1" r="4.5"/>
<circle cx="420.9" cy="721.1" r="4.5"/>
<circle cx="420.9" cy="704.9" r="4.5"/>
<circle cx="420.9" cy="699.3" r="4.5"/>
<circle cx="420.9" cy="712.6" r="4.5"/>
<circle cx="420.9" cy="542.7" r="4.5"/>
<circle cx="420.9" cy="571.1" r="4.5"/>
<circle cx="420.9" cy="699.3" r="4.5"/>
<circle cx="420.9" cy="555.5" r="4.5"/>
<circle cx="420.9" cy="673.6" r="4.5"/>
<circle cx="420.9" cy="717.7" r="4.5"/>
<circle cx="420.9" cy="598.2" r="4.5"/>
<circle cx="438.7" cy="666.6" r="4.5"/>
<circle cx="438.7" cy="647.7" r="4.5"/>
<circle cx="438.7" cy="662.1" r="4.5"/>
<circle cx="438.7" cy="601.5" r="4.5"/>
<circle cx="438.7" cy="569.0" r="4.5"/>
<circle cx="438.7" cy="648.0" r="4.5"/>
<circle cx="438.7" cy="648.4" r="4.5"/>
<circle cx="438.7" cy="618.1" r="4.5"/>
<circle cx="438.7" cy="551.1" r="4.5"/>
<circle cx="438.7" cy="570.0" r="4.5"/>
<circle cx="438.7" cy="550.6" r="4.5"/>
<circle cx="438.7" cy="719.7" r="4.5"/>
<circle cx="438.7" cy="583.2" r="4.5"/>
<circle cx="438.7" cy="566.1" r="4.5"/>
<circle cx="438.7" cy="554.1" r="4.5"/>
<circle cx="438.7" cy="629.0" r="4.5"/>
<circle cx="438.7" cy="708.5" r="4.5"/>
<circle cx="438.7" cy="586.1" r="4.5"/>
<circle cx="438.7" cy="668.7" r="4.5"/>
<circle cx="438.7" cy="623.4" r="4.5"/>
<circle cx="438.7" cy="617.3" r="4.5"/>
<circle cx="438.7" cy="548.6" r="4.5"/>
<circle cx="438.7" cy="672.4" r="4.5"/>
<circle cx="438.7" cy="644.5" r="4.5"/>
<circle cx="438.7" cy="613.9" r="4.5"/>
<circle cx="438.7" cy="656.4" r="4.5"/>
<circle cx="456.4" cy="535.6" r="4.5"/>
<circle cx="456.4" cy="567.4" r="4.5"/>
<circle cx="456.4" cy="553.9" r="4.5"/>
<circle cx="456.4" cy="541.3" r="4.5"/>
<circle cx="456.4" cy="577.9" r="4.5"/>
<circle cx="456.4" cy="605.6" r="4.5"/>
<circle cx="456.4" cy="690.0" r="4.5"/>
<circle cx="456.4" cy="597.9" r="4.5"/>
<circle cx="456.4" cy="668.2" r="4.5"/>
<circle cx="456.4" cy="676.0" r="4.5"/>
<circle cx="456.4" cy="605.3" r="4.5"/>
<circle cx="456.4" cy="535.6" r="4.5"/>
<circle cx="456.4" cy="537.3" r="4.5"/>
<circle cx="456.4" cy="614.3" r="4.5"/>
<circle cx="456.4" cy="601.3" r="4.5"/>
<circle cx="456.4" cy="537.6" r="4.5"/>
<circle cx="456.4" cy="602.0" r="4.5"/>
<circle cx="456.4" cy="549.0" r="4.5"/>
<circle cx="456.4" cy="675.6" r="4.5"/>
<circle cx="456.4" cy="641.3" r="4.5"/>
<circle cx="456.4" cy="563.0" r="4.5"/>
<circle cx="456.4" cy="529.1" r="4.5"/>
<circle cx="456.4" cy="554.2" r="4.5"/>
<circle cx="456.4" cy="575.6" r="4.5"/>
<circle cx="456.4" cy="617.8" r="4.5"/>
<circle cx="456.4" cy="690.7" r="4.5"/>
<circle cx="456.4" cy="624.5" r="4.5"/>
<circle cx="456.4" cy="641.3" r="4.5"/>
<circle cx="456.4" cy="623.8" r="4.5"/>
<circle cx="456.4" cy="529.9" r="4.5"/>
<circle cx="456.4" cy="527.9" r="4.5"/>
<circle cx="456.4" cy="704.5" r="4.5"/>
<circle cx="474.2" cy="661.7" r="4.5"/>
<circle cx="474.2" cy="651.1" r="4.5"/>
<circle cx="474.2" cy="710.6" r="4.5"/>
<circle cx="474.2" cy="687.2" r="4.5"/>
<circle cx="474.2" cy="629.3" r="4.5"/>
<circle cx="474.2" cy="660.7" r="4.5"/>
<circle cx="474.2" cy="580.5" r="4.5"/>
<circle cx="474.2" cy="618.0" r="4.5"/>
<circle cx="474.2" cy="708.2" r="4.5"/>
<circle cx="474.2" cy="549.4" r="4.5"/>
<circle cx="474.2" cy="563.8" r="4.5"/>
<circle cx="474.2" cy="589.3" r="4.5"/>
<circle cx="474.2" cy="637.8" r="4.5"/>
<circle cx="474.2" cy="628.4" r="4.5"/>
<circle cx="474.2" cy="659.7" r="4.5"/>
<circle cx="474.2" cy="570.9" r="4.5"/>
<circle cx="474.2" cy="709.2" r="4.5"/>
<circle cx="474.2" cy="573.0" r="4.5"/>
<circle cx="474.2" cy="583.2" r="4.5"/>
<circle cx="474.2" cy="615.2" r="4.5"/>
<circle cx="474.2" cy="673.0" r="4.5"/>
<circle cx="474.2" cy="598.5" r="4.5"/>
<circle cx="474.2" cy="570.5" r="4.5"/>
<circle cx="474.2" cy="626.2" r="4.5"/>
<circle cx="474.2" cy="535.4" r="4.5"/>
<circle cx="474.2" cy="572.0" r="4.5"/>
<circle cx="474.2" cy="575.2" r="4.5"/>
<circle cx="474.2" cy="588.4" r="4.5"/>
<circle cx="474.2" cy="549.4" r="4.5"/>
<circle cx="474.2" cy="633.2" r="4.5"/>
<circle cx="474.2" cy="527.0" r="4.5"/>
<circle cx="474.2" cy="553.0" r="4.5"/>
<circle cx="474.2" cy="694.3" r="4.5"/>
<circle cx="474.2" cy="550.4" r="4.5"/>
<circle cx="474.2" cy="712.6" r="4.5"/>
<circle cx="474.2" cy="680.8" r="4.5"/>
<circle cx="474.2" cy="626.9" r="4.5"/>
<circle cx="491.9" cy="660.7" r="4.5"/>
<circle cx="491.9" cy="563.4" r="4.5"/>
<circle cx="491.9" cy="575.0" r="4.5"/>
<circle cx="491.9" cy="546.5" r="4.5"/>
<circle cx="491.9" cy="672.3" r="4.5"/>
<circle cx="491.9" cy="714.0" r="4.5"/>
<circle cx="491.9" cy="686.9" r="4.5"/>
<circle cx="491.9" cy="575.4" r="4.5"/>
<circle cx="491.9" cy="702.9" r="4.5"/>
<circle cx="491.9" cy="532.3" r="4.5"/>
<circle cx="491.9" cy="715.6" r="4.5"/>
<circle cx="491.9" cy="596.5" r="4.5"/>
<circle cx="491.9" cy="636.7" r="4.5"/>
<circle cx="491.9" cy="659.6" r="4.5"/>
<circle cx="491.9" cy="704.3" r="4.5"/>
<circle cx="491.9" cy="703.4" r="4.5"/>
<circle cx="491.9" cy="594.1" r="4.5"/>
<circle cx="491.9" cy="548.8" r="4.5"/>
<circle cx="491.9" cy="684.7" r="4.5"/>
<circle cx="491.9" cy="680.4" r="4.5"/>
<circle cx="491.9" cy="548.6" r="4.5"/>
<circle cx="491.9" cy="540.9" r="4.5"/>
<circle cx="491.9" cy="602.0" r="4.5"/>
<circle cx="491.9" cy="606.4" r="4.5"/>
<circle cx="491.9" cy="644.5" r="4.5"/>
<circle cx="491.9" cy="538.3" r="4.5"/>
<circle cx="491.9" cy="542.9" r="4.5"/>
<circle cx="491.9" cy="712.4" r="4.5"/>
<circle cx="491.9" cy="712.1" r="4.5"/>
<circle cx="491.9" cy="560.5" r="4.5"/>
<circle cx="491.9" cy="622.3" r="4.5"/>
<circle cx="491.9" cy="714.5" r="4.5"/>
<circle cx="491.9" cy="541.0" r="4.5"/>
<circle cx="491.9" cy="670.6" r="4.5"/>
<circle cx="491.9" cy="598.8" r="4.5"/>
<circle cx="491.9" cy="669.7" r="4.5"/>
<circle cx="491.9" cy="669.5" r="4.5"/>
<circle cx="491.9" cy="657.9" r="4.5"/>
<circle cx="491.9" cy="703.7" r="4.5"/>
<circle cx="491.9" cy="587.3" r="4.5"/>
<circle cx="491.9" cy="674.5" r="4.5"/>
<circle cx="509.7" cy="532.5" r="4.5"/>
<circle cx="509.7" cy="672.4" r="4.5"/>
<circle cx="509.7" cy="659.9" r="4.5"/>
<circle cx="509.7" cy="588.1" r="4.5"/>
<circle cx="509.7" cy="551.7" r="4.5"/>
<circle cx="509.7" cy="667.8" r="4.5"/>
<circle cx="509.7" cy="608.7" r="4.5"/>
<circle cx="509.7" cy="702.9" r="4.5"/>
<circle cx="509.7" cy="669.1" r="4.5"/>
<circle cx="509.7" cy="633.5" r="4.5"/>
<circle cx="509.7" cy="582.5" r="4.5"/>
<circle cx="509.7" cy="636.5" r="4.5"/>
<circle cx="509.7" cy="542.5" r="4.5"/>
<circle cx="509.7" cy="643.7" r="4.5"/>
<circle cx="509.7" cy="653.1" r="4.5"/>
<circle cx="509.7" cy="627.6" r="4.5"/>
<circle cx="509.7" cy="622.2" r="4.5"/>
<circle cx="509.7" cy="530.3" r="4.5"/>
<circle cx="509.7" cy="642.0" r="4.5"/>
<circle cx="509.7" cy="569.8" r="4.5"/>
<circle cx="509.7" cy="531.5" r="4.5"/>
<circle cx="509.7" cy="613.3" r="4.5"/>
<circle cx="509.7" cy="638.9" r="4.5"/>
<circle cx="509.7" cy="702.5" r="4.5"/>
<circle cx="509.7" cy="612.5" r="4.5"/>
<circle cx="509.7" cy="544.3" r="4.5"/>
<circle cx="509.7" cy="610.8" r="4.5"/>
<circle cx="509.7" cy="602.1" r="4.5"/>
<circle cx="509.7" cy="642.3" r="4.5"/>
<circle cx="509.7" cy="629.8" r="4.5"/>
<circle cx="509.7" cy="656.4" r="4.5"/>
<circle cx="509.7" cy="695.5" r="4.5"/>
<circle cx="509.7" cy="650.5" r="4.5"/>
<circle cx="509.7" cy="669.4" r="4.5"/>
<circle cx="509.7" cy="588.0" r="4.5"/>
<circle cx="509.7" cy="644.6" r="4.5"/>
<circle cx="509.7" cy="650.1" r="4.5"/>
<circle cx="509.7" cy="610.9" r="4.5"/>
<circle cx="509.7" cy="674.5" r="4.5"/>
<circle cx="509.7" cy="576.6" r="4.5"/>
<circle cx="509.7" cy="569.6" r="4.5"/>
<circle cx="509.7" cy="614.5" r="4.5"/>
<circle cx="509.7" cy="603.8" r="4.5"/>
<circle cx="509.7" cy="586.0" r="4.5"/>
<circle cx="527.4" cy="626.8" r="4.5"/>
<circle cx="527.4" cy="685.6" r="4.5"/>
<circle cx="527.4" cy="637.4" r="4.5"/>
<circle cx="527.4" cy="547.4" r="4.5"/>
<circle cx="527.4" cy="563.1" r="4.5"/>
<circle cx="527.4" cy="690.5" r="4.5"/>
<circle cx="527.4" cy="582.4" r="4.5"/>
<circle cx="527.4" cy="647.5" r="4.5"/>
<circle cx="527.4" cy="643.4" r="4.5"/>
<circle cx="527.4" cy="544.0" r="4.5"/>
<circle cx="527.4" cy="563.8" r="4.5"/>
<circle cx="527.4" cy="591.0" r="4.5"/>
<circle cx="527.4" cy="619.2" r="4.5"/>
<circle cx="527.4" cy="537.1" r="4.5"/>
<circle cx="527.4" cy="631.9" r="4.5"/>
<circle cx="527.4" cy="583.7" r="4.5"/>
<circle cx="527.4" cy="628.6" r="4.5"/>
<circle cx="527.4" cy="666.7" r="4.5"/>
<circle cx="527.4" cy="595.0" r="4.5"/>
<circle cx="527.4" cy="659.4" r="4.5"/>
<circle cx="527.4" cy="652.8" r="4.5"/>
<circle cx="527.4" cy="565.8" r="4.5"/>
<circle cx="527.4" cy="539.8" r="4.5"/>
<circle cx="527.4" cy="635.3" r="4.5"/>
<circle cx="527.4" cy="640.2" r="4.5"/>
<circle cx="527.4" cy="530.5" r="4.5"/>
<circle cx="527.4" cy="570.0" r="4.5"/>
<circle cx="527.4" cy="657.3" r="4.5"/>
<circle cx="527.4" cy="707.6" r="4.5"/>
<circle cx="527.4" cy="662.6" r="4.5"/>
<circle cx="527.4" cy="650.9" r="4.5"/>
<circle cx="527.4" cy="547.9" r="4.5"/>
<circle cx="527.4" cy="593.2" r="4.5"/>
<circle cx="527.4" cy="555.8" r="4.5"/>
<circle cx="527.4" cy="656.1" r="4.5"/>
<circle cx="527.4" cy="534.2" r="4.5"/>
<circle cx="527.4" cy="560.9" r="4.5"/>
<circle cx="545.2" cy="716.5" r="4.5"/>
<circle cx="545.2" cy="616.8" r="4.5"/>
<circle cx="545.2" cy="660.1" r="4.5"/>
<circle cx="545.2" cy="689.9" r="4.5"/>
<circle cx="545.2" cy="559.7" r="4.5"/>
<circle cx="545.2" cy="535.3" r="4.5"/>
<circle cx="545.2" cy="604.4" r="4.5"/>
<circle cx="545.2" cy="625.1" r="4.5"/>
<circle cx="545.2" cy="540.3" r="4.5"/>
<circle cx="545.2" cy="595.4" r="4.5"/>
<circle cx="545.2" cy="604.5" r="4.5"/>
<circle cx="545.2" cy="641.5" r="4.5"/>
<circle cx="545.2" cy="662.9" r="4.5"/>
<circle cx="545.2" cy="641.5" r="4.5"/>
<circle cx="545.2" cy="700.4" r="4.5"/>
<circle cx="545.2" cy="654.4" r="4.5"/>
<circle cx="545.2" cy="707.5" r="4.5"/>
<circle cx="545.2" cy="592.4" r="4.5"/>
<circle cx="545.2" cy="703.2" r="4.5"/>
<circle cx="545.2" cy="656.1" r="4.5"/>
<circle cx="545.2" cy="530.5" r="4.5"/>
<circle cx="545.2" cy="609.2" r="4.5"/>
<circle cx="545.2" cy="708.6" r="4.5"/>
<circle cx="545.2" cy="607.7" r="4.5"/>
<circle cx="545.2" cy="669.9" r="4.5"/>
<circle cx="545.2" cy="591.8" r="4.5"/>
<circle cx="545.2" cy="607.7" r="4.5"/>
<circle cx="545.2" cy="641.1" r="4.5"/>
<circle cx="545.2" cy="593.3" r="4.5"/>
<circle cx="545.2" cy="569.7" r="4.5"/>
<circle cx="545.2" cy="690.2" r="4.5"/>
<circle cx="545.2" cy="594.8" r="4.5"/>
<circle cx="545.2" cy="644.0" r="4.5"/>
<circle cx="545.2" cy="699.9" r="4.5"/>
<circle cx="545.2" cy="567.6" r="4.5"/>
<circle cx="545.2" cy="526.9" r="4.5"/>
<circle cx="545.2" cy="696.1" r="4.5"/>
<circle cx="545.2" cy="536.0" r="4.5"/>
<circle cx="545.2" cy="564.2" r="4.5"/>
<circle cx="545.2" cy="622.7" r="4.5"/>
<circle cx="545.2" cy="571.3" r="4.5"/>
<circle cx="545.2" cy="613.1" r="4.5"/>
<circle cx="545.2" cy="594.9" r="4.5"/>
<circle cx="562.9" cy="668.1" r="4.5"/>
<circle cx="562.9" cy="529.9" r="4.5"/>
<circle cx="562.9" cy="640.5" r="4.5"/>
<circle cx="562.9" cy="616.6" r="4.5"/>
<circle cx="562.9" cy="545.9" r="4.5"/>
<circle cx="562.9" cy="613.6" r="4.5"/>
<circle cx="562.9" cy="558.7" r="4.5"/>
<circle cx="562.9" cy="682.7" r="4.5"/>
<circle cx="562.9" cy="629.0" r="4.5"/>
<circle cx="562.9" cy="616.7" r="4.5"/>
<circle cx="562.9" cy="527.5" r="4.5"/>
<circle cx="562.9" cy="664.2" r="4.5"/>
<circle cx="562.9" cy="661.2" r="4.5"/>
<circle cx="562.9" cy="583.3" r="4.5"/>
<circle cx="562.9" cy="671.6" r="4.5"/>
<circle cx="562.9" cy="692.9" r="4.5"/>
<circle cx="562.9" cy="638.1" r="4.5"/>
<circle cx="562.9" cy="545.2" r="4.5"/>
<circle cx="562.9" cy="533.7" r="4.5"/>
<circle cx="562.9" cy="702.1" r="4.5"/>
<circle cx="562.9" cy="615.6" r="4.5"/>
<circle cx="562.9" cy="695.3" r="4.5"/>
<circle cx="562.9" cy="533.4" r="4.5"/>
<circle cx="562.9" cy="630.8" r="4.5"/>
<circle cx="562.9" cy="603.9" r="4.5"/>
<circle cx="562.9" cy="701.2" r="4.5"/>
<circle cx="562.9" cy="699.2" r="4.5"/>
<circle cx="562.9" cy="600.1" r="4.5"/>
<circle cx="562.9" cy="537.8" r="4.5"/>
<circle cx="562.9" cy="639.0" r="4.5"/>
<circle cx="562.9" cy="618.2" r="4.5"/>
<circle cx="562.9" cy="558.9" r="4.5"/>
<circle cx="562.9" cy="666.5" r="4.5"/>
<circle cx="562.9" cy="624.9" r="4.5"/>
<circle cx="580.7" cy="560.6" r="4.5"/>
<circle cx="580.7" cy="615.8" r="4.5"/>
<circle cx="580.7" cy="636.8" r="4.5"/>
<circle cx="580.7" cy="554.0" r="4.5"/>
<circle cx="580.7" cy="664.1" r="4.5"/>
<circle cx="580.7" cy="612.0" r="4.5"/>
<circle cx="580.7" cy="640.1" r="4.5"/>
<circle cx="580.7" cy="678.7" r="4.5"/>
<circle cx="580.7" cy="669.0" r="4.5"/>
<circle cx="580.7" cy="572.5" r="4.5"/>
<circle cx="580.7" cy="544.4" r="4.5"/>
<circle cx="580.7" cy="558.0" r="4.5"/>
<circle cx="580.7" cy="627.4" r="4.5"/>
<circle cx="580.7" cy="644.8" r="4.5"/>
<circle cx="580.7" cy="576.6" r="4.5"/>
<circle cx="580.7" cy="697.7" r="4.5"/>
<circle cx="580.7" cy="704.8" r="4.5"/>
<circle cx="580.7" cy="712.7" r="4.5"/>
<circle cx="580.7" cy="556.2" r="4.5"/>
<circle cx="580.7" cy="601.5" r="4.5"/>
<circle cx="580.7" cy="681.6" r="4.5"/>
<circle cx="580.7" cy="612.5" r="4.5"/>
<circle cx="580.7" cy="584.2" r="4.5"/>
<circle cx="580.7" cy="602.6" r="4.5"/>
<circle cx="580.7" cy="562.5" r="4.5"/>
<circle cx="580.7" cy="603.4" r="4.5"/>
<circle cx="580.7" cy="624.6" r="4.5"/>
<circle cx="580.7" cy="603.0" r="4.5"/>
<circle cx="580.7" cy="650.3" r="4.5"/>
<circle cx="580.7" cy="553.4" r="4.5"/>
<circle cx="580.7" cy="694.9" r="4.5"/>
<circle cx="580.7" cy="528.4" r="4.5"/>
<circle cx="580.7" cy="656.8" r="4.5"/>
<circle cx="580.7" cy="641.3" r="4.5"/>
<circle cx="580.7" cy="631.6" r="4.5"/>
<circle cx="580.7" cy="556.6" r="4.5"/>
<circle cx="580.7" cy="541.2" r="4.5"/>
<circle cx="580.7" cy="699.7" r="4.5"/>
<circle cx="580.7" cy="594.5" r="4.5"/>
<circle cx="580.7" cy="573.0" r="4.5"/>
<circle cx="580.7" cy="635.1" r="4.5"/>
<circle cx="580.7" cy="696.7" r="4.5"/>
<circle cx="580.7" cy="535.4" r="4.5"/>
<circle cx="580.7" cy="696.3" r="4.5"/>
<circle cx="580.7" cy="627.3" r="4.5"/>
<circle cx="580.7" cy="572.1" r="4.5"/>
<circle cx="580.7" cy="535.7" r="4.5"/>
<circle cx="580.7" cy="695.6" r="4.5"/>
<circle cx="580.7" cy="707.8" r="4.5"/>
<circle cx="580.7" cy="613.1" r="4.5"/>
<circle cx="580.7" cy="636.5" r="4.5"/>
<circle cx="598.4" cy="590.7" r="4.5"/>
<circle cx="598.4" cy="544.1" r="4.5"/>
<circle cx="598.4" cy="663.9" r="4.5"/>
<circle cx="598.4" cy="639.3" r="4.5"/>
<circle cx="598.4" cy="612.6" r="4.5"/>
<circle cx="598.4" cy="656.9" r="4.5"/>
<circle cx="598.4" cy="685.1" r="4.5"/>
<circle cx="598.4" cy="561.0" r="4.5"/>
<circle cx="598.4" cy="598.0" r="4.5"/>
<circle cx="598.4" cy="592.7" r="4.5"/>
<circle cx="598.4" cy="662.4" r="4.5"/>
<circle cx="598.4" cy="606.0" r="4.5"/>
<circle cx="598.4" cy="607.9" r="4.5"/>
<circle cx="598.4" cy="681.7" r="4.5"/>
<circle cx="598.4" cy="584.5" r="4.5"/>
<circle cx="598.4" cy="546.3" r="4.5"/>
<circle cx="598.4" cy="528.4" r="4.5"/>
<circle cx="598.4" cy="634.0" r="4.5"/>
<circle cx="598.4" cy="567.1" r="4.5"/>
<circle cx="598.4" cy="554.7" r="4.5"/>
<circle cx="598.4" cy="680.4" r="4.5"/>
<circle cx="598.4" cy="654.7" r="4.5"/>
<circle cx="598.4" cy="675.8" r="4.5"/>
<circle cx="598.4" cy="560.4" r="4.5"/>
<circle cx="598.4" cy="550.6" r="4.5"/>
<circle cx="598.4" cy="568.9" r="4.5"/>
<circle cx="598.4" cy="546.8" r="4.5"/>
<circle cx="598.4" cy="578.9" r="4.5"/>
<circle cx="598.4" cy="606.4" r="4.5"/>
<circle cx="598.4" cy="648.3" r="4.5"/>
<circle cx="598.4" cy="616.0" r="4.5"/>
<circle cx="598.4" cy="616.6" r="4.5"/>
<circle cx="598.4" cy="548.5" r="4.5"/>
<circle cx="598.4" cy="560.0" r="4.5"/>
<circle cx="598.4" cy="679.1" r="4.5"/>
<circle cx="598.4" cy="606.5" r="4.5"/>
<circle cx="598.4" cy="673.0" r="4.5"/>
<circle cx="598.4" cy="554.7" r="4.5"/>
<circle cx="598.4" cy="662.7" r="4.5"/>
<circle cx="598.4" cy="649.5" r="4.5"/>
<circle cx="598.4" cy="562.8" r="4.5"/>
<circle cx="598.4" cy="584.6" r="4.5"/>
<circle cx="598.4" cy="582.5" r="4.5"/>
<circle cx="598.4" cy="536.5" r="4.5"/>
<circle cx="598.4" cy="607.9" r="4.5"/>
<circle cx="598.4" cy="658.4" r="4.5"/>
<circle cx="598.4" cy="679.8" r="4.5"/>
<circle cx="598.4" cy="584.7" r="4.5"/>
<circle cx="598.4" cy="661.3" r="4.5"/>
<circle cx="598.4" cy="614.2" r="4.5"/>
<circle cx="598.4" cy="621.5" r="4.5"/>
<circle cx="616.2" cy="527.9" r="4.5"/>
<circle cx="616.2" cy="710.8" r="4.5"/>
<circle cx="616.2" cy="652.3" r="4.5"/>
<circle cx="616.2" cy="704.5" r="4.5"/>
<circle cx="616.2" cy="568.3" r="4.5"/>
<circle cx="616.2" cy="660.3" r="4.5"/>
<circle cx="616.2" cy="627.4" r="4.5"/>
<circle cx="616.2" cy="634.2" r="4.5"/>
<circle cx="616.2" cy="677.0" r="4.5"/>
<circle cx="616.2" cy="666.5" r="4.5"/>
<circle cx="616.2" cy="563.8" r="4.5"/>
<circle cx="616.2" cy="550.1" r="4.5"/>
<circle cx="616.2" cy="664.7" r="4.5"/>
<circle cx="616.2" cy="552.5" r="4.5"/>
<circle cx="616.2" cy="637.0" r="4.5"/>
<circle cx="616.2" cy="568.1" r="4.5"/>
<circle cx="616.2" cy="703.4" r="4.5"/>
<circle cx="616.2" cy="562.0" r="4.5"/>
<circle cx="616.2" cy="681.0" r="4.5"/>
<circle cx="616.2" cy="628.4" r="4.5"/>
<circle cx="616.2" cy="571.7" r="4.5"/>
<circle cx="616.2" cy="606.9" r="4.5"/>
<circle cx="616.2" cy="609.8" r="4.5"/>
<circle cx="616.2" cy="571.6" r="4.5"/>
<circle cx="616.2" cy="661.6" r="4.5"/>
<circle cx="616.2" cy="565.0" r="4.5"/>
<circle cx="616.2" cy="680.5" r="4.5"/>
<circle cx="616.2" cy="580.3" r="4.5"/>
<circle cx="616.2" cy="595.6" r="4.5"/>
<circle cx="616.2" cy="616.5" r="4.5"/>
<circle cx="616.2" cy="637.6" r="4.5"/>
<circle cx="616.2" cy="572.2" r="4.5"/>
<circle cx="616.2" cy="615.4" r="4.5"/>
<circle cx="616.2" cy="640.2" r="4.5"/>
<circle cx="616.2" cy="565.8" r="4.5"/>
<circle cx="633.9" cy="693.2" r="4.5"/>
<circle cx="633.9" cy="605.3" r="4.5"/>
<circle cx="633.9" cy="621.4" r="4.5"/>
<circle cx="633.9" cy="541.6" r="4.5"/>
<circle cx="633.9" cy="598.3" r="4.5"/>
<circle cx="633.9" cy="613.0" r="4.5"/>
<circle cx="633.9" cy="696.3" r="4.5"/>
<circle cx="633.9" cy="602.0" r="4.5"/>
<circle cx="633.9" cy="665.1" r="4.5"/>
<circle cx="633.9" cy="545.5" r="4.5"/>
<circle cx="633.9" cy="631.3" r="4.5"/>
<circle cx="633.9" cy="543.8" r="4.5"/>
<circle cx="633.9" cy="594.9" r="4.5"/>
<circle cx="633.9" cy="669.0" r="4.5"/>
<circle cx="633.9" cy="674.7" r="4.5"/>
<circle cx="633.9" cy="688.2" r="4.5"/>
<circle cx="633.9" cy="527.9" r="4.5"/>
<circle cx="633.9" cy="587.6" r="4.5"/>
<circle cx="633.9" cy="660.4" r="4.5"/>
<circle cx="633.9" cy="602.0" r="4.5"/>
<circle cx="633.9" cy="537.6" r="4.5"/>
<circle cx="633.9" cy="677.5" r="4.5"/>
<circle cx="633.9" cy="534.7" r="4.5"/>
<circle cx="633.9" cy="607.3" r="4.5"/>
<circle cx="633.9" cy="597.8" r="4.5"/>
<circle cx="633.9" cy="584.2" r="4.5"/>
<circle cx="633.9" cy="611.6" r="4.5"/>
<circle cx="633.9" cy="569.1" r="4.5"/>
<circle cx="633.9" cy="601.5" r="4.5"/>
<circle cx="633.9" cy="547.4" r="4.5"/>
<circle cx="633.9" cy="532.8" r="4.5"/>
<circle cx="633.9" cy="551.0" r="4.5"/>
<circle cx="633.9" cy="638.3" r="4.5"/>
<circle cx="633.9" cy="687.9" r="4.5"/>
<circle cx="633.9" cy="718.1" r="4.5"/>
<circle cx="633.9" cy="540.7" r="4.5"/>
<circle cx="633.9" cy="528.7" r="4.5"/>
<circle cx="633.9" cy="600.1" r="4.5"/>
<circle cx="633.9" cy="660.9" r="4.5"/>
<circle cx="633.9" cy="639.7" r="4.5"/>
<circle cx="633.9" cy="690.5" r="4.5"/>
<circle cx="633.9" cy="528.2" r="4.5"/>
<circle cx="651.7" cy="546.2" r="4.5"/>
<circle cx="651.7" cy="582.8" r="4.5"/>
<circle cx="651.7" cy="603.0" r="4.5"/>
<circle cx="651.7" cy="578.5" r="4.5"/>
<circle cx="651.7" cy="526.4" r="4.5"/>
<circle cx="651.7" cy="581.7" r="4.5"/>
<circle cx="651.7" cy="568.7" r="4.5"/>
<circle cx="651.7" cy="701.2" r="4.5"/>
<circle cx="651.7" cy="656.9" r="4.5"/>
<circle cx="651.7" cy="684.7" r="4.5"/>
<circle cx="651.7" cy="579.7" r="4.5"/>
<circle cx="651.7" cy="696.7" r="4.5"/>
<circle cx="651.7" cy="555.9" r="4.5"/>
<circle cx="651.7" cy="652.6" r="4.5"/>
<circle cx="651.7" cy="687.3" r="4.5"/>
<circle cx="651.7" cy="646.2" r="4.5"/>
<circle cx="651.7" cy="554.7" r="4.5"/>
<circle cx="651.7" cy="587.0" r="4.5"/>
<circle cx="651.7" cy="564.8" r="4.5"/>
<circle cx="651.7" cy="575.5" r="4.5"/>
<circle cx="651.7" cy="625.8" r="4.5"/>
<circle cx="651.7" cy="590.8" r="4.5"/>
<circle cx="651.7" cy="543.8" r="4.5"/>
<circle cx="651.7" cy="645.1" r="4.5"/>
<circle cx="651.7" cy="705.0" r="4.5"/>
<circle cx="651.7" cy="592.6" r="4.5"/>
<circle cx="651.7" cy="595.8" r="4.5"/>
<circle cx="651.7" cy="574.3" r="4.5"/>
<circle cx="651.7" cy="556.0" r="4.5"/>
<circle cx="651.7" cy="600.1" r="4.5"/>
<circle cx="651.7" cy="597.3" r="4.5"/>
<circle cx="651.7" cy="578.2" r="4.5"/>
<circle cx="651.7" cy="615.9" r="4.5"/>
<circle cx="651.7" cy="697.0" r="4.5"/>
<circle cx="651.7" cy="584.8" r="4.5"/>
<circle cx="651.7" cy="712.4" r="4.5"/>
<circle cx="651.7" cy="660.7" r="4.5"/>
<circle cx="651.7" cy="536.8" r="4.5"/>
<circle cx="651.7" cy="686.5" r="4.5"/>
<circle cx="669.5" cy="608.9" r="4.5"/>
<circle cx="669.5" cy="673.3" r="4.5"/>
<circle cx="669.5" cy="540.8" r="4.5"/>
<circle cx="669.5" cy="532.5" r="4.5"/>
<circle cx="669.5" cy="535.4" r="4.5"/>
<circle cx="669.5" cy="582.2" r="4.5"/>
<circle cx="669.5" cy="636.7" r="4.5"/>
<circle cx="669.5" cy="526.5" r="4.5"/>
<circle cx="669.5" cy="540.7" r="4.5"/>
<circle cx="669.5" cy="541.9" r="4.5"/>
<circle cx="669.5" cy="544.5" r="4.5"/>
<circle cx="669.5" cy="677.5" r="4.5"/>
<circle cx="669.5" cy="631.4" r="4.5"/>
<circle cx="669.5" cy="690.3" r="4.5"/>
<circle cx="669.5" cy="553.3" r="4.5"/>
<circle cx="669.5" cy="622.0" r="4.5"/>
<circle cx="669.5" cy="555.2" r="4.5"/>
<circle cx="669.5" cy="538.9" r="4.5"/>
<circle cx="669.5" cy="548.8" r="4.5"/>
<circle cx="669.5" cy="696.1" r="4.5"/>
<circle cx="669.5" cy="549.2" r="4.5"/>
<circle cx="669.5" cy="598.4" r="4.5"/>
<circle cx="669.5" cy="655.6" r="4.5"/>
<circle cx="669.5" cy="702.8" r="4.5"/>
<circle cx="669.5" cy="586.7" r="4.5"/>
<circle cx="669.5" cy="607.0" r="4.5"/>
<circle cx="669.5" cy="547.2" r="4.5"/>
<circle cx="669.5" cy="636.0" r="4.5"/>
<circle cx="669.5" cy="688.3" r="4.5"/>
<circle cx="669.5" cy="655.6" r="4.5"/>
<circle cx="669.5" cy="528.9" r="4.5"/>
<circle cx="669.5" cy="646.7" r="4.5"/>
<circle cx="669.5" cy="556.8" r="4.5"/>
<circle cx="669.5" cy="623.7" r="4.5"/>
<circle cx="669.5" cy="680.5" r="4.5"/>
<circle cx="669.5" cy="585.5" r="4.5"/>
<circle cx="669.5" cy="667.3" r="4.5"/>
<circle cx="669.5" cy="607.4" r="4.5"/>
<circle cx="669.5" cy="588.7" r="4.5"/>
<circle cx="669.5" cy="608.7" r="4.5"/>
<circle cx="669.5" cy="617.8" r="4.5"/>
<circle cx="669.5" cy="576.4" r="4.5"/>
<circle cx="669.5" cy="638.3" r="4.5"/>
<circle cx="687.2" cy="635.0" r="4.5"/>
<circle cx="687.2" cy="584.8" r="4.5"/>
<circle cx="687.2" cy="571.9" r="4.5"/>
<circle cx="687.2" cy="703.5" r="4.5"/>
<circle cx="687.2" cy="686.4" r="4.5"/>
<circle cx="687.2" cy="654.3" r="4.5"/>
<circle cx="687.2" cy="540.1" r="4.5"/>
<circle cx="687.2" cy="608.7" r="4.5"/>
<circle cx="687.2" cy="622.4" r="4.5"/>
<circle cx="687.2" cy="618.6" r="4.5"/>
<circle cx="687.2" cy="686.9" r="4.5"/>
<circle cx="687.2" cy="589.1" r="4.5"/>
<circle cx="687.2" cy="632.6" r="4.5"/>
<circle cx="687.2" cy="608.6" r="4.5"/>
<circle cx="687.2" cy="683.0" r="4.5"/>
<circle cx="687.2" cy="660.7" r="4.5"/>
<circle cx="687.2" cy="667.9" r="4.5"/>
<circle cx="687.2" cy="670.5" r="4.5"/>
<circle cx="687.2" cy="530.6" r="4.5"/>
<circle cx="687.2" cy="558.1" r="4.5"/>
<circle cx="687.2" cy="624.1" r="4.5"/>
<circle cx="687.2" cy="555.7" r="4.5"/>
<circle cx="687.2" cy="618.9" r="4.5"/>
<circle cx="687.2" cy="665.8" r="4.5"/>
<circle cx="687.2" cy="587.7" r="4.5"/>
<circle cx="687.2" cy="708.5" r="4.5"/>
<circle cx="687.2" cy="576.7" r="4.5"/>
<circle cx="687.2" cy="702.7" r="4.5"/>
<circle cx="687.2" cy="669.9" r="4.5"/>
<circle cx="687.2" cy="585.6" r="4.5"/>
<circle cx="687.2" cy="709.5" r="4.5"/>
<circle cx="687.2" cy="573.0" r="4.5"/>
<circle cx="687.2" cy="580.1" r="4.5"/>
<circle cx="687.2" cy="717.4" r="4.5"/>
<circle cx="687.2" cy="549.9" r="4.5"/>
<circle cx="687.2" cy="582.6" r="4.5"/>
<circle cx="687.2" cy="615.7" r="4.5"/>
<circle cx="687.2" cy="597.9" r="4.5"/>
<circle cx="705.0" cy="596.7" r="4.5"/>
<circle cx="705.0" cy="692.3" r="4.5"/>
<circle cx="705.0" cy="552.3" r="4.5"/>
<circle cx="705.0" cy="652.7" r="4.5"/>
<circle cx="705.0" cy="554.2" r="4.5"/>
<circle cx="705.0" cy="631.2" r="4.5"/>
<circle cx="705.0" cy="706.4" r="4.5"/>
<circle cx="705.0" cy="620.3" r="4.5"/>
<circle cx="705.0" cy="643.7" r="4.5"/>
<circle cx="705.0" cy="620.4" r="4.5"/>
<circle cx="705.0" cy="533.3" r="4.5"/>
<circle cx="705.0" cy="614.8" r="4.5"/>
<circle cx="705.0" cy="692.6" r="4.5"/>
<circle cx="705.0" cy="624.9" r="4.5"/>
<circle cx="705.0" cy="583.4" r="4.5"/>
<circle cx="705.0" cy="681.6" r="4.5"/>
<circle cx="705.0" cy="698.6" r="4.5"/>
<circle cx="705.0" cy="571.3" r="4.5"/>
<circle cx="705.0" cy="695.8" r="4.5"/>
<circle cx="705.0" cy="599.9" r="4.5"/>
<circle cx="705.0" cy="686.0" r="4.5"/>
<circle cx="705.0" cy="574.3" r="4.5"/>
<circle cx="705.0" cy="617.4" r="4.5"/>
<circle cx="705.0" cy="585.1" r="4.5"/>
<circle cx="705.0" cy="628.7" r="4.5"/>
<circle cx="705.0" cy="630.3" r="4.5"/>
<circle cx="705.0" cy="645.7" r="4.5"/>
<circle cx="705.0" cy="559.4" r="4.5"/>
<circle cx="705.0" cy="690.0" r="4.5"/>
<circle cx="705.0" cy="646.6" r="4.5"/>
<circle cx="705.0" cy="563.6" r="4.5"/>
<circle cx="705.0" cy="575.9" r="4.5"/>
<circle cx="705.0" cy="706.3" r="4.5"/>
<circle cx="705.0" cy="636.7" r="4.5"/>
<circle cx="705.0" cy="620.8" r="4.5"/>
<circle cx="705.0" cy="666.7" r="4.5"/>
<circle cx="705.0" cy="580.5" r="4.5"/>
<circle cx="705.0" cy="682.3" r="4.5"/>
<circle cx="705.0" cy="606.3" r="4.5"/>
<circle cx="722.7" cy="644.7" r="4.5"/>
<circle cx="722.7" cy="588.7" r="4.5"/>
<circle cx="722.7" cy="665.2" r="4.5"/>
<circle cx="722.7" cy="552.7" r="4.5"/>
<circle cx="722.7" cy="693.4" r="4.5"/>
<circle cx="722.7" cy="534.1" r="4.5"/>
<circle cx="722.7" cy="541.1" r="4.5"/>
<circle cx="722.7" cy="541.9" r="4.5"/>
<circle cx="722.7" cy="710.1" r="4.5"/>
<circle cx="722.7" cy="719.5" r="4.5"/>
<circle cx="722.7" cy="592.8" r="4.5"/>
<circle cx="722.7" cy="608.3" r="4.5"/>
<circle cx="722.7" cy="648.9" r="4.5"/>
<circle cx="722.7" cy="606.2" r="4.5"/>
<circle cx="722.7" cy="645.1" r="4.5"/>
<circle cx="722.7" cy="592.4" r="4.5"/>
<circle cx="722.7" cy="556.4" r="4.5"/>
<circle cx="722.7" cy="706.5" r="4.5"/>
<circle cx="722.7" cy="597.8" r="4.5"/>
<circle cx="722.7" cy="559.5" r="4.5"/>
<circle cx="722.7" cy="644.3" r="4.5"/>
<circle cx="722.7" cy="657.5" r="4.5"/>
<circle cx="722.7" cy="702.7" r="4.5"/>
<circle cx="722.7" cy="567.0" r="4.5"/>
<circle cx="722.7" cy="580.7" r="4.5"/>
<circle cx="722.7" cy="597.9" r="4.5"/>
<circle cx="722.7" cy="626.1" r="4.5"/>
<circle cx="722.7" cy="601.4" r="4.5"/>
<circle cx="722.7" cy="619.9" r="4.5"/>
<circle cx="722.7" cy="658.9" r="4.5"/>
<circle cx="740.5" cy="652.3" r="4.5"/>
<circle cx="740.5" cy="717.7" r="4.5"/>
<circle cx="740.5" cy="633.5" r="4.5"/>
<circle cx="740.5" cy="641.2" r="4.5"/>
<circle cx="740.5" cy="540.0" r="4.5"/>
<circle cx="740.5" cy="624.3" r="4.5"/>
<circle cx="740.5" cy="559.2" r="4.5"/>
<circle cx="740.5" cy="681.0" r="4.5"/>
<circle cx="740.5" cy="540.7" r="4.5"/>
<circle cx="740.5" cy="694.2" r="4.5"/>
<circle cx="740.5" cy="691.4" r="4.5"/>
<circle cx="740.5" cy="568.2" r="4.5"/>
<circle cx="740.5" cy="649.4" r="4.5"/>
<circle cx="740.5" cy="631.1" r="4.5"/>
<circle cx="740.5" cy="631.6" r="4.5"/>
<circle cx="740.5" cy="681.1" r="4.5"/>
<circle cx="740.5" cy="703.3" r="4.5"/>
<circle cx="740.5" cy="537.4" r="4.5"/>
<circle cx="740.5" cy="683.9" r="4.5"/>
<circle cx="740.5" cy="616.9" r="4.5"/>
<circle cx="740.5" cy="675.7" r="4.5"/>
<circle cx="758.2" cy="540.1" r="4.5"/>
<circle cx="758.2" cy="537.2" r="4.5"/>
<circle cx="758.2" cy="646.9" r="4.5"/>
<circle cx="758.2" cy="540.0" r="4.5"/>
<circle cx="758.2" cy="631.6" r="4.5"/>
<circle cx="758.2" cy="628.7" r="4.5"/>
<circle cx="758.2" cy="569.8" r="4.5"/>
<circle cx="758.2" cy="634.9" r="4.5"/>
<circle cx="758.2" cy="698.6" r="4.5"/>
<circle cx="758.2" cy="531.3" r="4.5"/>
<circle cx="758.2" cy="687.4" r="4.5"/>
<circle cx="758.2" cy="640.9" r="4.5"/>
<circle cx="758.2" cy="619.8" r="4.5"/>
<circle cx="758.2" cy="573.1" r="4.5"/>
<circle cx="758.2" cy="685.8" r="4.5"/>
<circle cx="758.2" cy="543.3" r="4.5"/>
<circle cx="758.2" cy="669.4" r="4.5"/>
<circle cx="758.2" cy="530.1" r="4.5"/>
<circle cx="758.2" cy="690.8" r="4.5"/>
<circle cx="758.2" cy="595.8" r="4.5"/>
<circle cx="758.2" cy="627.2" r="4.5"/>
<circle cx="758.2" cy="630.3" r="4.5"/>
<circle cx="758.2" cy="561.6" r="4.5"/>
<circle cx="758.2" cy="679.1" r="4.5"/>
<circle cx="776.0" cy="556.9" r="4.5"/>
<circle cx="776.0" cy="629.7" r="4.5"/>
<circle cx="776.0" cy="700.7" r="4.5"/>
<circle cx="776.0" cy="587.0" r="4.5"/>
<circle cx="776.0" cy="626.0" r="4.5"/>
<circle cx="776.0" cy="696.0" r="4.5"/>
<circle cx="776.0" cy="638.2" r="4.5"/>
<circle cx="776.0" cy="667.0" r="4.5"/>
<circle cx="776.0" cy="624.4" r="4.5"/>
<circle cx="776.0" cy="679.6" r="4.5"/>
<circle cx="776.0" cy="677.7" r="4.5"/>
<circle cx="776.0" cy="552.1" r="4.5"/>
<circle cx="776.0" cy="631.2" r="4.5"/>
<circle cx="776.0" cy="557.0" r="4.5"/>
<circle cx="776.0" cy="535.4" r="4.5"/>
<circle cx="776.0" cy="644.3" r="4.5"/>
<circle cx="776.0" cy="676.1" r="4.5"/>
<circle cx="776.0" cy="709.6" r="4.5"/>
<circle cx="776.0" cy="529.8" r="4.5"/>
<circle cx="776.0" cy="546.3" r="4.5"/>
<circle cx="776.0" cy="544.2" r="4.5"/>
<circle cx="776.0" cy="698.5" r="4.5"/>
<circle cx="776.0" cy="639.5" r="4.5"/>
<circle cx="793.7" cy="692.2" r="4.5"/>
<circle cx="793.7" cy="547.1" r="4.5"/>
<circle cx="793.7" cy="663.1" r="4.5"/>
<circle cx="793.7" cy="579.5" r="4.5"/>
<circle cx="793.7" cy="536.8" r="4.5"/>
<circle cx="793.7" cy="648.1" r="4.5"/>
<circle cx="793.7" cy="632.8" r="4.5"/>
<circle cx="793.7" cy="610.6" r="4.5"/>
<circle cx="793.7" cy="678.7" r="4.5"/>
<circle cx="793.7" cy="562.4" r="4.5"/>
<circle cx="793.7" cy="647.1" r="4.5"/>
<circle cx="793.7" cy="690.8" r="4.5"/>
<circle cx="793.7" cy="692.6" r="4.5"/>
<circle cx="793.7" cy="689.6" r="4.5"/>
<circle cx="793.7" cy="677.2" r="4.5"/>
<circle cx="793.7" cy="646.6" r="4.5"/>
<circle cx="793.7" cy="688.1" r="4.5"/>
<circle cx="793.7" cy="538.0" r="4.5"/>
<circle cx="793.7" cy="557.0" r="4.5"/>
<circle cx="793.7" cy="662.4" r="4.5"/>
<circle cx="811.5" cy="546.3" r="4.5"/>
<circle cx="811.5" cy="670.6" r="4.5"/>
<circle cx="811.5" cy="531.9" r="4.5"/>
<circle cx="811.5" cy="663.6" r="4.5"/>
<circle cx="811.5" cy="565.8" r="4.5"/>
<circle cx="811.5" cy="555.8" r="4.5"/>
<circle cx="811.5" cy="673.2" r="4.5"/>
<circle cx="811.5" cy="526.6" r="4.5"/>
<circle cx="811.5" cy="670.3" r="4.5"/>
<circle cx="811.5" cy="590.1" r="4.5"/>
<circle cx="811.5" cy="572.8" r="4.5"/>
<circle cx="811.5" cy="552.7" r="4.5"/>
<circle cx="811.5" cy="678.3" r="4.5"/>
<circle cx="811.5" cy="654.2" r="4.5"/>
<circle cx="811.5" cy="531.8" r="4.5"/>
<circle cx="811.5" cy="545.9" r="4.5"/>
<circle cx="811.5" cy="555.2" r="4.5"/>
<circle cx="811.5" cy="641.5" r="4.5"/>
<circle cx="811.5" cy="594.7" r="4.5"/>
<circle cx="829.2" cy="658.7" r="4.5"/>
<circle cx="829.2" cy="705.3" r="4.5"/>
<circle cx="829.2" cy="648.9" r="4.5"/>
<circle cx="829.2" cy="555.9" r="4.5"/>
<circle cx="829.2" cy="623.7" r="4.5"/>
<circle cx="829.2" cy="644.5" r="4.5"/>
<circle cx="829.2" cy="654.1" r="4.5"/>
<circle cx="829.2" cy="611.1" r="4.5"/>
<circle cx="829.2" cy="706.3" r="4.5"/>
<circle cx="829.2" cy="618.3" r="4.5"/>
<circle cx="829.2" cy="532.6" r="4.5"/>
<circle cx="829.2" cy="598.9" r="4.5"/>
<circle cx="829.2" cy="696.0" r="4.5"/>
<circle cx="829.2" cy="644.8" r="4.5"/>
<circle cx="829.2" cy="634.6" r="4.5"/>
<circle cx="847.0" cy="567.2" r="4.5"/>
<circle cx="847.0" cy="645.6" r="4.5"/>
<circle cx="847.0" cy="588.8" r="4.5"/>
<circle cx="847.0" cy="580.2" r="4.5"/>
<circle cx="847.0" cy="538.6" r="4.5"/>
<circle cx="847.0" cy="607.3" r="4.5"/>
<circle cx="847.0" cy="666.9" r="4.5"/>
<circle cx="847.0" cy="546.8" r="4.5"/>
<circle cx="864.7" cy="691.5" r="4.5"/>
<circle cx="864.7" cy="657.5" r="4.5"/>
<circle cx="864.7" cy="680.4" r="4.5"/>
<circle cx="864.7" cy="660.6" r="4.5"/>
<circle cx="864.7" cy="571.4" r="4.5"/>
<circle cx="864.7" cy="586.5" r="4.5"/>
<circle cx="864.7" cy="639.1" r="4.5"/>
<circle cx="864.7" cy="573.8" r="4.5"/>
<circle cx="864.7" cy="627.2" r="4.5"/>
<circle cx="900.2" cy="630.9" r="4.5"/>
<circle cx="900.2" cy="591.5" r="4.5"/>
<circle cx="900.2" cy="633.0" r="4.5"/>
<circle cx="918.0" cy="710.7" r="4.5"/>
<circle cx="918.0" cy="631.1" r="4.5"/>
<circle cx="918.0" cy="567.2" r="4.5"/>
<circle cx="918.0" cy="559.3" r="4.5"/>
<circle cx="953.5" cy="603.3" r="4.5"/>
<circle cx="953.5" cy="637.0" r="4.5"/>
</g>
<polyline points="172.4,712.4 190.1,699.9 207.9,688.1 225.7,676.9 243.4,666.2 261.2,655.9 278.9,646.2 296.7,636.8 314.4,627.9 332.2,619.5 349.9,611.7 367.7,604.6 385.4,598.1 403.2,592.4 420.9,587.3 438.7,582.8 456.4,578.9 474.2,575.5 491.9,572.6 509.7,570.1 527.4,568.1 545.2,566.3 562.9,564.9 580.7,563.7 598.4,562.8 616.2,561.9 633.9,561.3 651.7,560.7 669.5,560.1 687.2,559.7 705.0,559.3 722.7,559.0 740.5,558.7 758.2,558.6 776.0,558.5 793.7,558.6 811.5,558.7 829.2,558.9 847.0,559.3 864.7,559.8 882.5,560.5 900.2,561.3 918.0,562.3 935.7,563.4 953.5,564.7 971.2,566.2 989.0,567.8 1006.7,569.6 1024.5,571.5 1042.2,573.5 1060.0,575.4 1077.7,577.4 1095.5,579.3 1113.3,581.1 1131.0,582.8 1148.8,584.4 1166.5,586.0 1184.3,587.4 1202.0,588.8 1219.8,590.1 1237.5,591.4 1255.3,592.6 1273.0,593.7" fill="none" stroke="#0000FF" stroke-width="2" stroke-dasharray="8 8" shape-rendering="crispEdges"/>
<polyline points="172.4,766.3 190.1,744.8 207.9,725.2 225.7,707.4 243.4,691.3 261.2,676.9 278.9,664.1 296.7,652.8 314.4,642.8 332.2,634.0 349.9,626.2 367.7,619.2 385.4,612.8 403.2,607.1 420.9,601.9 438.7,597.2 456.4,593.0 474.2,589.1 491.9,585.7 509.7,582.6 527.4,579.8 545.2,577.4 562.9,575.3 580.7,573.6 598.4,572.1 616.2,570.9 633.9,570.1 651.7,569.5 669.5,569.2 687.2,569.1 705.0,569.3 722.7,569.6 740.5,570.2 758.2,570.9 776.0,571.7 793.7,572.6 811.5,573.7 829.2,574.8 847.0,576.1 864.7,577.5 882.5,578.9 900.2,580.5 918.0,582.1 935.7,584.0 953.5,585.9 971.2,588.1 989.0,590.6 1006.7,593.3 1024.5,596.4 1042.2,600.0 1060.0,604.2 1077.7,609.0 1095.5,614.7 1113.3,621.1 1131.0,628.5 1148.8,637.0 1166.5,646.5 1184.3,657.2 1202.0,669.1 1219.8,682.3 1237.5,696.9 1255.3,713.0 1273.0,730.8" fill="none" stroke="#0000FF" stroke-width="2" stroke-dasharray="8 8" shape-rendering="crispEdges"/>
<polyline points="172.4,739.4 190.1,722.4 207.9,706.7 225.7,692.1 243.4,678.7 261.2,666.4 278.9,655.1 296.7,644.8 314.4,635.4 332.2,626.8 349.9,618.9 367.7,611.9 385.4,605.5 403.2,599.7 420.9,594.6 438.7,590.0 456.4,585.9 474.2,582.3 491.9,579.1 509.7,576.4 527.4,574.0 545.2,571.9 562.9,570.1 580.7,568.6 598.4,567.4 616.2,566.4 633.9,565.7 651.7,565.1 669.5,564.6 687.2,564.4 705.0,564.3 722.7,564.3 740.5,564.5 758.2,564.7 776.0,565.1 793.7,565.6 811.5,566.2 829.2,566.9 847.0,567.7 864.7,568.6 882.5,569.7 900.2,570.9 918.0,572.2 935.7,573.7 953.5,575.3 971.2,577.2 989.0,579.2 1006.7,581.5 1024.5,584.0 1042.2,586.7 1060.0,589.8 1077.7,593.2 1095.5,597.0 1113.3,601.1 1131.0,605.7 1148.8,610.7 1166.5,616.2 1184.3,622.3 1202.0,628.9 1219.8,636.2 1237.5,644.2 1255.3,652.8 1273.0,662.2" fill="none" stroke="#006400" stroke-width="2" shape-rendering="crispEdges"/>
<g stroke="#CBCBCB" stroke-width="2" fill="none">
<line x1="118" y1="15" x2="118" y2="858"/>
<line x1="118" y1="858" x2="1328" y2="858"/>
<line x1="207.9" y1="858.0" x2="207.9" y2="866.0"/>
<line x1="562.9" y1="858.0" x2="562.9" y2="866.0"/>
<line x1="918.0" y1="858.0" x2="918.0" y2="866.0"/>
<line x1="1273.0" y1="858.0" x2="1273.0" y2="866.0"/>
<line x1="109.4" y1="614.9" x2="117.4" y2="614.9"/>
<line x1="109.4" y1="357.9" x2="117.4" y2="357.9"/>
<line x1="109.4" y1="101.0" x2="117.4" y2="101.0"/>
</g>
<g font-size="26.6" fill="#444">
<text transform="translate(207.9,893.8) scale(0.97,1)" text-anchor="middle">20</text>
<text transform="translate(562.9,893.8) scale(0.97,1)" text-anchor="middle">40</text>
<text transform="translate(918.0,893.8) scale(0.97,1)" text-anchor="middle">60</text>
<text transform="translate(1273.0,893.8) scale(0.97,1)" text-anchor="middle">80</text>
<text transform="translate(102.6,368.8) scale(0.95,1)" text-anchor="end">200</text>
<text transform="translate(102.6,111.9) scale(0.95,1)" text-anchor="end">300</text>
<text transform="translate(102.6,625.8) scale(0.95,1)" text-anchor="end">00</text>
<path d="M70.5,607.2 L70.5,625.8 L68.5,625.8 L68.5,610.2 L63.6,614.3 L63.6,612.1 L69.0,607.2 Z" fill="#444" stroke="none"/>
</g>
<text x="722.7" y="938.6" text-anchor="middle" font-size="31" fill="#3A3A3A">age</text>
<text transform="translate(40.0,438.2) rotate(-90)" text-anchor="middle" font-size="32" fill="#3A3A3A">wage</text>
</svg>
</body></html>
